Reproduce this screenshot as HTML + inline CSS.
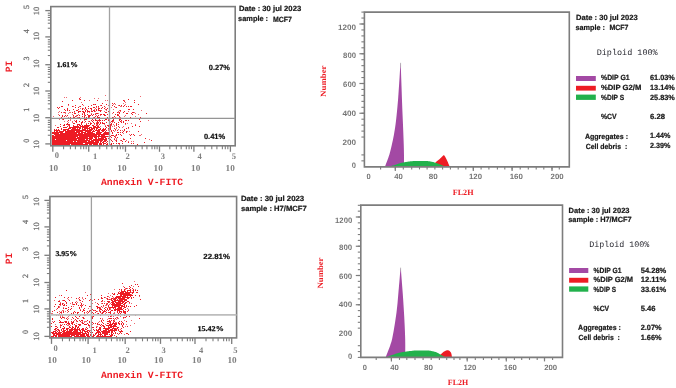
<!DOCTYPE html><html><head><meta charset="utf-8"><style>html,body{margin:0;padding:0;background:#fff;overflow:hidden}svg{display:block;will-change:transform}</style></head><body><svg width="676" height="388" viewBox="0 0 676 388" text-rendering="geometricPrecision">
<rect width="676" height="388" fill="#fff"/>
<g shape-rendering="crispEdges">
<path d="M79 98h1v1h-1zM80 99h1v1h-1zM128 99h1v1h-1zM72 100h1v1h-1zM84 100h1v1h-1zM97 100h1v1h-1zM123 100h1v1h-1zM134 100h1v1h-1zM62 101h1v1h-1zM124 101h1v1h-1zM134 102h1v1h-1zM102 103h1v1h-1zM112 103h1v1h-1zM114 103h1v1h-1zM68 104h1v1h-1zM82 104h1v1h-1zM93 104h1v1h-1zM95 104h1v1h-1zM106 104h1v1h-1zM138 104h1v1h-1zM75 105h1v1h-1zM91 105h1v1h-1zM101 105h1v1h-1zM112 105h1v1h-1zM119 105h1v1h-1zM121 105h1v1h-1zM124 105h1v1h-1zM61 106h1v1h-1zM62 106h1v1h-1zM72 106h1v1h-1zM80 106h1v1h-1zM88 106h1v1h-1zM96 106h1v1h-1zM98 106h1v1h-1zM104 106h1v1h-1zM114 106h1v1h-1zM123 106h1v1h-1zM126 106h1v1h-1zM128 106h1v1h-1zM130 106h1v1h-1zM131 106h1v1h-1zM57 107h1v1h-1zM59 107h1v1h-1zM75 107h1v1h-1zM78 107h1v1h-1zM85 107h1v1h-1zM93 107h1v1h-1zM94 107h1v1h-1zM102 107h1v1h-1zM116 107h1v1h-1zM58 108h1v1h-1zM67 108h1v1h-1zM82 108h1v1h-1zM85 108h1v1h-1zM88 108h1v1h-1zM90 108h1v1h-1zM91 108h1v1h-1zM98 108h1v1h-1zM99 108h1v1h-1zM101 108h1v1h-1zM104 108h1v1h-1zM107 108h1v1h-1zM64 109h1v1h-1zM67 109h1v1h-1zM73 109h1v1h-1zM78 109h1v1h-1zM82 109h1v1h-1zM86 109h1v1h-1zM91 109h1v1h-1zM96 109h1v1h-1zM98 109h1v1h-1zM106 109h1v1h-1zM128 109h1v1h-1zM129 109h1v1h-1zM133 109h1v1h-1zM65 110h1v1h-1zM67 110h1v1h-1zM69 110h1v1h-1zM76 110h1v1h-1zM77 110h1v1h-1zM85 110h1v1h-1zM87 110h1v1h-1zM93 110h1v1h-1zM94 110h1v1h-1zM96 110h1v1h-1zM98 110h1v1h-1zM99 110h1v1h-1zM100 110h1v1h-1zM120 110h1v1h-1zM74 111h1v1h-1zM78 111h1v1h-1zM79 111h1v1h-1zM80 111h1v1h-1zM82 111h1v1h-1zM83 111h1v1h-1zM85 111h1v1h-1zM87 111h1v1h-1zM88 111h1v1h-1zM89 111h1v1h-1zM91 111h1v1h-1zM92 111h1v1h-1zM94 111h1v1h-1zM100 111h1v1h-1zM108 111h1v1h-1zM124 111h1v1h-1zM61 112h1v1h-1zM64 112h1v1h-1zM72 112h1v1h-1zM78 112h1v1h-1zM83 112h1v1h-1zM84 112h1v1h-1zM105 112h1v1h-1zM106 112h1v1h-1zM113 112h1v1h-1zM117 112h1v1h-1zM119 112h1v1h-1zM123 112h1v1h-1zM132 112h1v1h-1zM133 112h1v1h-1zM74 113h1v1h-1zM75 113h1v1h-1zM84 113h1v1h-1zM96 113h1v1h-1zM97 113h1v1h-1zM119 113h1v1h-1zM126 113h1v1h-1zM127 113h1v1h-1zM131 113h1v1h-1zM146 113h1v1h-1zM82 114h1v1h-1zM84 114h1v1h-1zM87 114h1v1h-1zM91 114h1v1h-1zM93 114h1v1h-1zM95 114h1v1h-1zM100 114h1v1h-1zM101 114h1v1h-1zM103 114h1v1h-1zM104 114h1v1h-1zM107 114h1v1h-1zM115 114h1v1h-1zM117 114h1v1h-1zM132 114h1v1h-1zM59 115h1v1h-1zM62 115h1v1h-1zM65 115h1v1h-1zM67 115h1v1h-1zM73 115h1v1h-1zM77 115h1v1h-1zM79 115h1v1h-1zM85 115h1v1h-1zM88 115h1v1h-1zM89 115h1v1h-1zM90 115h1v1h-1zM92 115h1v1h-1zM98 115h1v1h-1zM104 115h1v1h-1zM105 115h1v1h-1zM117 115h1v1h-1zM118 115h1v1h-1zM62 116h1v1h-1zM64 116h1v1h-1zM75 116h1v1h-1zM82 116h1v1h-1zM84 116h1v1h-1zM88 116h1v1h-1zM89 116h1v1h-1zM95 116h1v1h-1zM97 116h1v1h-1zM109 116h1v1h-1zM114 116h1v1h-1zM119 116h1v1h-1zM61 117h1v1h-1zM70 117h1v1h-1zM73 117h1v1h-1zM74 117h1v1h-1zM79 117h1v1h-1zM84 117h1v1h-1zM86 117h1v1h-1zM88 117h1v1h-1zM94 117h1v1h-1zM97 117h1v1h-1zM98 117h1v1h-1zM99 117h1v1h-1zM107 117h1v1h-1zM112 117h1v1h-1zM130 117h1v1h-1zM140 117h1v1h-1zM68 118h1v1h-1zM69 118h1v1h-1zM84 118h1v1h-1zM86 118h1v1h-1zM91 118h1v1h-1zM92 118h1v1h-1zM105 118h1v1h-1zM106 118h1v1h-1zM108 118h1v1h-1zM131 118h1v1h-1zM63 119h1v1h-1zM84 119h1v1h-1zM85 119h1v1h-1zM86 119h1v1h-1zM92 119h1v1h-1zM95 119h1v1h-1zM99 119h1v1h-1zM105 119h1v1h-1zM106 119h1v1h-1zM113 119h1v1h-1zM119 119h1v1h-1zM120 119h1v1h-1zM139 119h1v1h-1zM68 120h1v1h-1zM76 120h1v1h-1zM91 120h1v1h-1zM93 120h1v1h-1zM95 120h1v1h-1zM96 120h1v1h-1zM98 120h1v1h-1zM99 120h1v1h-1zM100 120h1v1h-1zM102 120h1v1h-1zM104 120h1v1h-1zM108 120h1v1h-1zM112 120h1v1h-1zM113 120h1v1h-1zM119 120h1v1h-1zM121 120h1v1h-1zM125 120h1v1h-1zM126 120h1v1h-1zM128 120h1v1h-1zM75 121h1v1h-1zM76 121h1v1h-1zM79 121h1v1h-1zM82 121h1v1h-1zM85 121h1v1h-1zM89 121h1v1h-1zM92 121h1v1h-1zM97 121h1v1h-1zM111 121h1v1h-1zM112 121h1v1h-1zM120 121h1v1h-1zM123 121h1v1h-1zM140 121h1v1h-1zM76 122h1v1h-1zM81 122h1v1h-1zM82 122h1v1h-1zM93 122h1v1h-1zM97 122h1v1h-1zM98 122h1v1h-1zM100 122h1v1h-1zM102 122h1v1h-1zM106 122h1v1h-1zM114 122h1v1h-1zM118 122h1v1h-1zM121 122h1v1h-1zM123 122h1v1h-1zM67 123h1v1h-1zM73 123h1v1h-1zM74 123h1v1h-1zM81 123h1v1h-1zM88 123h1v1h-1zM90 123h1v1h-1zM91 123h1v1h-1zM94 123h1v1h-1zM96 123h1v1h-1zM97 123h1v1h-1zM100 123h1v1h-1zM102 123h1v1h-1zM103 123h1v1h-1zM104 123h1v1h-1zM111 123h1v1h-1zM116 123h1v1h-1zM125 123h1v1h-1zM60 124h1v1h-1zM64 124h1v1h-1zM66 124h1v1h-1zM67 124h1v1h-1zM68 124h1v1h-1zM69 124h1v1h-1zM77 124h1v1h-1zM78 124h1v1h-1zM79 124h1v1h-1zM81 124h1v1h-1zM86 124h1v1h-1zM90 124h1v1h-1zM97 124h1v1h-1zM99 124h1v1h-1zM110 124h1v1h-1zM111 124h1v1h-1zM116 124h1v1h-1zM118 124h1v1h-1zM63 125h1v1h-1zM64 125h1v1h-1zM69 125h1v1h-1zM73 125h1v1h-1zM77 125h1v1h-1zM79 125h1v1h-1zM80 125h1v1h-1zM82 125h1v1h-1zM84 125h1v1h-1zM85 125h1v1h-1zM86 125h1v1h-1zM87 125h1v1h-1zM88 125h1v1h-1zM89 125h1v1h-1zM92 125h1v1h-1zM93 125h1v1h-1zM96 125h1v1h-1zM107 125h1v1h-1zM108 125h1v1h-1zM110 125h1v1h-1zM116 125h1v1h-1zM135 125h1v1h-1zM60 126h1v1h-1zM67 126h1v1h-1zM69 126h1v1h-1zM73 126h1v1h-1zM74 126h1v1h-1zM75 126h1v1h-1zM76 126h1v1h-1zM77 126h1v1h-1zM78 126h1v1h-1zM80 126h1v1h-1zM81 126h1v1h-1zM82 126h1v1h-1zM83 126h1v1h-1zM84 126h1v1h-1zM85 126h1v1h-1zM86 126h1v1h-1zM87 126h1v1h-1zM88 126h1v1h-1zM93 126h1v1h-1zM94 126h1v1h-1zM95 126h1v1h-1zM97 126h1v1h-1zM98 126h1v1h-1zM105 126h1v1h-1zM108 126h1v1h-1zM110 126h1v1h-1zM118 126h1v1h-1zM132 126h1v1h-1zM139 126h1v1h-1zM57 127h1v1h-1zM58 127h1v1h-1zM63 127h1v1h-1zM64 127h1v1h-1zM65 127h1v1h-1zM66 127h1v1h-1zM69 127h1v1h-1zM70 127h1v1h-1zM71 127h1v1h-1zM72 127h1v1h-1zM73 127h1v1h-1zM74 127h1v1h-1zM75 127h1v1h-1zM76 127h1v1h-1zM77 127h1v1h-1zM78 127h1v1h-1zM79 127h1v1h-1zM80 127h1v1h-1zM82 127h1v1h-1zM83 127h1v1h-1zM84 127h1v1h-1zM85 127h1v1h-1zM86 127h1v1h-1zM87 127h1v1h-1zM89 127h1v1h-1zM90 127h1v1h-1zM91 127h1v1h-1zM93 127h1v1h-1zM94 127h1v1h-1zM95 127h1v1h-1zM96 127h1v1h-1zM97 127h1v1h-1zM98 127h1v1h-1zM99 127h1v1h-1zM106 127h1v1h-1zM110 127h1v1h-1zM119 127h1v1h-1zM128 127h1v1h-1zM61 128h1v1h-1zM68 128h1v1h-1zM69 128h1v1h-1zM70 128h1v1h-1zM72 128h1v1h-1zM73 128h1v1h-1zM74 128h1v1h-1zM75 128h1v1h-1zM77 128h1v1h-1zM79 128h1v1h-1zM80 128h1v1h-1zM82 128h1v1h-1zM84 128h1v1h-1zM85 128h1v1h-1zM86 128h1v1h-1zM87 128h1v1h-1zM88 128h1v1h-1zM89 128h1v1h-1zM91 128h1v1h-1zM92 128h1v1h-1zM93 128h1v1h-1zM94 128h1v1h-1zM96 128h1v1h-1zM97 128h1v1h-1zM100 128h1v1h-1zM103 128h1v1h-1zM105 128h1v1h-1zM108 128h1v1h-1zM110 128h1v1h-1zM114 128h1v1h-1zM126 128h1v1h-1zM54 129h1v1h-1zM56 129h1v1h-1zM58 129h1v1h-1zM61 129h1v1h-1zM63 129h1v1h-1zM64 129h1v1h-1zM65 129h1v1h-1zM66 129h1v1h-1zM67 129h1v1h-1zM68 129h1v1h-1zM71 129h1v1h-1zM72 129h1v1h-1zM73 129h1v1h-1zM74 129h1v1h-1zM75 129h1v1h-1zM76 129h1v1h-1zM77 129h1v1h-1zM78 129h1v1h-1zM79 129h1v1h-1zM82 129h1v1h-1zM83 129h1v1h-1zM84 129h1v1h-1zM85 129h1v1h-1zM87 129h1v1h-1zM89 129h1v1h-1zM90 129h1v1h-1zM91 129h1v1h-1zM92 129h1v1h-1zM94 129h1v1h-1zM96 129h1v1h-1zM98 129h1v1h-1zM99 129h1v1h-1zM100 129h1v1h-1zM102 129h1v1h-1zM103 129h1v1h-1zM104 129h1v1h-1zM105 129h1v1h-1zM110 129h1v1h-1zM115 129h1v1h-1zM124 129h1v1h-1zM54 130h1v1h-1zM55 130h1v1h-1zM56 130h1v1h-1zM57 130h1v1h-1zM58 130h1v1h-1zM59 130h1v1h-1zM63 130h1v1h-1zM64 130h1v1h-1zM65 130h1v1h-1zM67 130h1v1h-1zM68 130h1v1h-1zM69 130h1v1h-1zM70 130h1v1h-1zM71 130h1v1h-1zM72 130h1v1h-1zM73 130h1v1h-1zM74 130h1v1h-1zM75 130h1v1h-1zM76 130h1v1h-1zM77 130h1v1h-1zM78 130h1v1h-1zM79 130h1v1h-1zM80 130h1v1h-1zM81 130h1v1h-1zM82 130h1v1h-1zM83 130h1v1h-1zM84 130h1v1h-1zM85 130h1v1h-1zM86 130h1v1h-1zM87 130h1v1h-1zM88 130h1v1h-1zM89 130h1v1h-1zM90 130h1v1h-1zM91 130h1v1h-1zM93 130h1v1h-1zM95 130h1v1h-1zM96 130h1v1h-1zM97 130h1v1h-1zM98 130h1v1h-1zM99 130h1v1h-1zM101 130h1v1h-1zM102 130h1v1h-1zM103 130h1v1h-1zM104 130h1v1h-1zM106 130h1v1h-1zM109 130h1v1h-1zM111 130h1v1h-1zM113 130h1v1h-1zM117 130h1v1h-1zM120 130h1v1h-1zM124 130h1v1h-1zM54 131h1v1h-1zM56 131h1v1h-1zM57 131h1v1h-1zM59 131h1v1h-1zM60 131h1v1h-1zM61 131h1v1h-1zM62 131h1v1h-1zM63 131h1v1h-1zM65 131h1v1h-1zM66 131h1v1h-1zM67 131h1v1h-1zM68 131h1v1h-1zM69 131h1v1h-1zM70 131h1v1h-1zM71 131h1v1h-1zM72 131h1v1h-1zM73 131h1v1h-1zM74 131h1v1h-1zM76 131h1v1h-1zM77 131h1v1h-1zM78 131h1v1h-1zM79 131h1v1h-1zM80 131h1v1h-1zM81 131h1v1h-1zM82 131h1v1h-1zM85 131h1v1h-1zM86 131h1v1h-1zM87 131h1v1h-1zM88 131h1v1h-1zM89 131h1v1h-1zM90 131h1v1h-1zM92 131h1v1h-1zM93 131h1v1h-1zM94 131h1v1h-1zM97 131h1v1h-1zM98 131h1v1h-1zM99 131h1v1h-1zM102 131h1v1h-1zM103 131h1v1h-1zM105 131h1v1h-1zM109 131h1v1h-1zM111 131h1v1h-1zM123 131h1v1h-1zM126 131h1v1h-1zM138 131h1v1h-1zM52 132h1v1h-1zM53 132h1v1h-1zM54 132h1v1h-1zM55 132h1v1h-1zM56 132h1v1h-1zM57 132h1v1h-1zM58 132h1v1h-1zM59 132h1v1h-1zM60 132h1v1h-1zM61 132h1v1h-1zM62 132h1v1h-1zM65 132h1v1h-1zM66 132h1v1h-1zM67 132h1v1h-1zM68 132h1v1h-1zM69 132h1v1h-1zM70 132h1v1h-1zM71 132h1v1h-1zM72 132h1v1h-1zM73 132h1v1h-1zM74 132h1v1h-1zM75 132h1v1h-1zM76 132h1v1h-1zM77 132h1v1h-1zM78 132h1v1h-1zM79 132h1v1h-1zM81 132h1v1h-1zM82 132h1v1h-1zM83 132h1v1h-1zM84 132h1v1h-1zM85 132h1v1h-1zM87 132h1v1h-1zM88 132h1v1h-1zM89 132h1v1h-1zM90 132h1v1h-1zM91 132h1v1h-1zM92 132h1v1h-1zM96 132h1v1h-1zM97 132h1v1h-1zM98 132h1v1h-1zM99 132h1v1h-1zM100 132h1v1h-1zM101 132h1v1h-1zM104 132h1v1h-1zM105 132h1v1h-1zM106 132h1v1h-1zM107 132h1v1h-1zM108 132h1v1h-1zM112 132h1v1h-1zM117 132h1v1h-1zM118 132h1v1h-1zM120 132h1v1h-1zM122 132h1v1h-1zM126 132h1v1h-1zM52 133h1v1h-1zM53 133h1v1h-1zM54 133h1v1h-1zM55 133h1v1h-1zM56 133h1v1h-1zM57 133h1v1h-1zM58 133h1v1h-1zM60 133h1v1h-1zM61 133h1v1h-1zM62 133h1v1h-1zM63 133h1v1h-1zM64 133h1v1h-1zM65 133h1v1h-1zM66 133h1v1h-1zM67 133h1v1h-1zM68 133h1v1h-1zM69 133h1v1h-1zM70 133h1v1h-1zM71 133h1v1h-1zM72 133h1v1h-1zM73 133h1v1h-1zM74 133h1v1h-1zM75 133h1v1h-1zM76 133h1v1h-1zM78 133h1v1h-1zM79 133h1v1h-1zM80 133h1v1h-1zM81 133h1v1h-1zM82 133h1v1h-1zM84 133h1v1h-1zM85 133h1v1h-1zM86 133h1v1h-1zM87 133h1v1h-1zM88 133h1v1h-1zM89 133h1v1h-1zM90 133h1v1h-1zM91 133h1v1h-1zM92 133h1v1h-1zM93 133h1v1h-1zM94 133h1v1h-1zM96 133h1v1h-1zM97 133h1v1h-1zM98 133h1v1h-1zM99 133h1v1h-1zM100 133h1v1h-1zM103 133h1v1h-1zM104 133h1v1h-1zM105 133h1v1h-1zM106 133h1v1h-1zM107 133h1v1h-1zM108 133h1v1h-1zM109 133h1v1h-1zM112 133h1v1h-1zM54 134h1v1h-1zM55 134h1v1h-1zM56 134h1v1h-1zM57 134h1v1h-1zM58 134h1v1h-1zM59 134h1v1h-1zM60 134h1v1h-1zM61 134h1v1h-1zM62 134h1v1h-1zM63 134h1v1h-1zM64 134h1v1h-1zM65 134h1v1h-1zM66 134h1v1h-1zM67 134h1v1h-1zM68 134h1v1h-1zM69 134h1v1h-1zM70 134h1v1h-1zM71 134h1v1h-1zM72 134h1v1h-1zM73 134h1v1h-1zM74 134h1v1h-1zM75 134h1v1h-1zM76 134h1v1h-1zM77 134h1v1h-1zM78 134h1v1h-1zM79 134h1v1h-1zM80 134h1v1h-1zM81 134h1v1h-1zM82 134h1v1h-1zM83 134h1v1h-1zM84 134h1v1h-1zM85 134h1v1h-1zM86 134h1v1h-1zM87 134h1v1h-1zM88 134h1v1h-1zM89 134h1v1h-1zM90 134h1v1h-1zM91 134h1v1h-1zM92 134h1v1h-1zM93 134h1v1h-1zM94 134h1v1h-1zM95 134h1v1h-1zM96 134h1v1h-1zM97 134h1v1h-1zM98 134h1v1h-1zM99 134h1v1h-1zM100 134h1v1h-1zM101 134h1v1h-1zM102 134h1v1h-1zM103 134h1v1h-1zM104 134h1v1h-1zM105 134h1v1h-1zM106 134h1v1h-1zM107 134h1v1h-1zM108 134h1v1h-1zM109 134h1v1h-1zM116 134h1v1h-1zM118 134h1v1h-1zM120 134h1v1h-1zM131 134h1v1h-1zM133 134h1v1h-1zM52 135h1v1h-1zM53 135h1v1h-1zM55 135h1v1h-1zM56 135h1v1h-1zM57 135h1v1h-1zM58 135h1v1h-1zM59 135h1v1h-1zM60 135h1v1h-1zM61 135h1v1h-1zM62 135h1v1h-1zM63 135h1v1h-1zM64 135h1v1h-1zM65 135h1v1h-1zM66 135h1v1h-1zM67 135h1v1h-1zM68 135h1v1h-1zM69 135h1v1h-1zM70 135h1v1h-1zM71 135h1v1h-1zM72 135h1v1h-1zM73 135h1v1h-1zM74 135h1v1h-1zM75 135h1v1h-1zM76 135h1v1h-1zM77 135h1v1h-1zM78 135h1v1h-1zM79 135h1v1h-1zM80 135h1v1h-1zM81 135h1v1h-1zM82 135h1v1h-1zM83 135h1v1h-1zM84 135h1v1h-1zM85 135h1v1h-1zM86 135h1v1h-1zM87 135h1v1h-1zM88 135h1v1h-1zM89 135h1v1h-1zM90 135h1v1h-1zM91 135h1v1h-1zM92 135h1v1h-1zM93 135h1v1h-1zM94 135h1v1h-1zM95 135h1v1h-1zM96 135h1v1h-1zM98 135h1v1h-1zM99 135h1v1h-1zM101 135h1v1h-1zM102 135h1v1h-1zM103 135h1v1h-1zM104 135h1v1h-1zM111 135h1v1h-1zM112 135h1v1h-1zM113 135h1v1h-1zM116 135h1v1h-1zM121 135h1v1h-1zM130 135h1v1h-1zM134 135h1v1h-1zM52 136h1v1h-1zM53 136h1v1h-1zM54 136h1v1h-1zM55 136h1v1h-1zM56 136h1v1h-1zM57 136h1v1h-1zM58 136h1v1h-1zM59 136h1v1h-1zM60 136h1v1h-1zM61 136h1v1h-1zM62 136h1v1h-1zM63 136h1v1h-1zM64 136h1v1h-1zM65 136h1v1h-1zM66 136h1v1h-1zM67 136h1v1h-1zM68 136h1v1h-1zM69 136h1v1h-1zM70 136h1v1h-1zM71 136h1v1h-1zM72 136h1v1h-1zM73 136h1v1h-1zM74 136h1v1h-1zM75 136h1v1h-1zM76 136h1v1h-1zM77 136h1v1h-1zM79 136h1v1h-1zM80 136h1v1h-1zM81 136h1v1h-1zM82 136h1v1h-1zM83 136h1v1h-1zM84 136h1v1h-1zM85 136h1v1h-1zM86 136h1v1h-1zM87 136h1v1h-1zM88 136h1v1h-1zM89 136h1v1h-1zM90 136h1v1h-1zM91 136h1v1h-1zM92 136h1v1h-1zM93 136h1v1h-1zM94 136h1v1h-1zM95 136h1v1h-1zM96 136h1v1h-1zM97 136h1v1h-1zM98 136h1v1h-1zM99 136h1v1h-1zM100 136h1v1h-1zM101 136h1v1h-1zM102 136h1v1h-1zM103 136h1v1h-1zM104 136h1v1h-1zM105 136h1v1h-1zM106 136h1v1h-1zM107 136h1v1h-1zM110 136h1v1h-1zM114 136h1v1h-1zM52 137h1v1h-1zM53 137h1v1h-1zM54 137h1v1h-1zM55 137h1v1h-1zM56 137h1v1h-1zM57 137h1v1h-1zM58 137h1v1h-1zM59 137h1v1h-1zM60 137h1v1h-1zM61 137h1v1h-1zM62 137h1v1h-1zM63 137h1v1h-1zM64 137h1v1h-1zM65 137h1v1h-1zM66 137h1v1h-1zM67 137h1v1h-1zM68 137h1v1h-1zM69 137h1v1h-1zM70 137h1v1h-1zM71 137h1v1h-1zM72 137h1v1h-1zM73 137h1v1h-1zM74 137h1v1h-1zM75 137h1v1h-1zM77 137h1v1h-1zM78 137h1v1h-1zM79 137h1v1h-1zM80 137h1v1h-1zM81 137h1v1h-1zM82 137h1v1h-1zM83 137h1v1h-1zM84 137h1v1h-1zM85 137h1v1h-1zM86 137h1v1h-1zM87 137h1v1h-1zM89 137h1v1h-1zM90 137h1v1h-1zM91 137h1v1h-1zM92 137h1v1h-1zM94 137h1v1h-1zM95 137h1v1h-1zM96 137h1v1h-1zM98 137h1v1h-1zM101 137h1v1h-1zM102 137h1v1h-1zM103 137h1v1h-1zM104 137h1v1h-1zM105 137h1v1h-1zM109 137h1v1h-1zM111 137h1v1h-1zM115 137h1v1h-1zM117 137h1v1h-1zM52 138h1v1h-1zM53 138h1v1h-1zM54 138h1v1h-1zM55 138h1v1h-1zM56 138h1v1h-1zM57 138h1v1h-1zM58 138h1v1h-1zM59 138h1v1h-1zM60 138h1v1h-1zM61 138h1v1h-1zM62 138h1v1h-1zM63 138h1v1h-1zM64 138h1v1h-1zM65 138h1v1h-1zM66 138h1v1h-1zM67 138h1v1h-1zM68 138h1v1h-1zM69 138h1v1h-1zM70 138h1v1h-1zM71 138h1v1h-1zM72 138h1v1h-1zM73 138h1v1h-1zM74 138h1v1h-1zM75 138h1v1h-1zM76 138h1v1h-1zM77 138h1v1h-1zM78 138h1v1h-1zM79 138h1v1h-1zM80 138h1v1h-1zM81 138h1v1h-1zM82 138h1v1h-1zM83 138h1v1h-1zM84 138h1v1h-1zM85 138h1v1h-1zM86 138h1v1h-1zM87 138h1v1h-1zM88 138h1v1h-1zM89 138h1v1h-1zM90 138h1v1h-1zM91 138h1v1h-1zM92 138h1v1h-1zM95 138h1v1h-1zM96 138h1v1h-1zM98 138h1v1h-1zM99 138h1v1h-1zM100 138h1v1h-1zM101 138h1v1h-1zM102 138h1v1h-1zM103 138h1v1h-1zM105 138h1v1h-1zM106 138h1v1h-1zM108 138h1v1h-1zM130 138h1v1h-1zM145 138h1v1h-1zM52 139h1v1h-1zM53 139h1v1h-1zM54 139h1v1h-1zM56 139h1v1h-1zM57 139h1v1h-1zM58 139h1v1h-1zM59 139h1v1h-1zM60 139h1v1h-1zM61 139h1v1h-1zM62 139h1v1h-1zM63 139h1v1h-1zM64 139h1v1h-1zM65 139h1v1h-1zM66 139h1v1h-1zM67 139h1v1h-1zM68 139h1v1h-1zM69 139h1v1h-1zM70 139h1v1h-1zM71 139h1v1h-1zM72 139h1v1h-1zM73 139h1v1h-1zM74 139h1v1h-1zM75 139h1v1h-1zM76 139h1v1h-1zM78 139h1v1h-1zM79 139h1v1h-1zM80 139h1v1h-1zM81 139h1v1h-1zM82 139h1v1h-1zM83 139h1v1h-1zM84 139h1v1h-1zM86 139h1v1h-1zM87 139h1v1h-1zM89 139h1v1h-1zM90 139h1v1h-1zM91 139h1v1h-1zM93 139h1v1h-1zM94 139h1v1h-1zM95 139h1v1h-1zM96 139h1v1h-1zM97 139h1v1h-1zM98 139h1v1h-1zM99 139h1v1h-1zM100 139h1v1h-1zM101 139h1v1h-1zM102 139h1v1h-1zM103 139h1v1h-1zM104 139h1v1h-1zM105 139h1v1h-1zM106 139h1v1h-1zM110 139h1v1h-1zM114 139h1v1h-1zM123 139h1v1h-1zM124 139h1v1h-1zM52 140h1v1h-1zM53 140h1v1h-1zM54 140h1v1h-1zM55 140h1v1h-1zM56 140h1v1h-1zM57 140h1v1h-1zM58 140h1v1h-1zM59 140h1v1h-1zM60 140h1v1h-1zM61 140h1v1h-1zM62 140h1v1h-1zM63 140h1v1h-1zM64 140h1v1h-1zM65 140h1v1h-1zM67 140h1v1h-1zM68 140h1v1h-1zM69 140h1v1h-1zM70 140h1v1h-1zM71 140h1v1h-1zM72 140h1v1h-1zM73 140h1v1h-1zM74 140h1v1h-1zM75 140h1v1h-1zM76 140h1v1h-1zM77 140h1v1h-1zM78 140h1v1h-1zM79 140h1v1h-1zM80 140h1v1h-1zM81 140h1v1h-1zM82 140h1v1h-1zM83 140h1v1h-1zM84 140h1v1h-1zM85 140h1v1h-1zM86 140h1v1h-1zM87 140h1v1h-1zM88 140h1v1h-1zM89 140h1v1h-1zM91 140h1v1h-1zM92 140h1v1h-1zM93 140h1v1h-1zM94 140h1v1h-1zM95 140h1v1h-1zM96 140h1v1h-1zM97 140h1v1h-1zM98 140h1v1h-1zM99 140h1v1h-1zM100 140h1v1h-1zM101 140h1v1h-1zM102 140h1v1h-1zM104 140h1v1h-1zM105 140h1v1h-1zM106 140h1v1h-1zM111 140h1v1h-1zM116 140h1v1h-1zM121 140h1v1h-1zM151 140h1v1h-1zM52 141h1v1h-1zM53 141h1v1h-1zM54 141h1v1h-1zM55 141h1v1h-1zM56 141h1v1h-1zM57 141h1v1h-1zM58 141h1v1h-1zM59 141h1v1h-1zM60 141h1v1h-1zM61 141h1v1h-1zM62 141h1v1h-1zM63 141h1v1h-1zM64 141h1v1h-1zM65 141h1v1h-1zM66 141h1v1h-1zM67 141h1v1h-1zM68 141h1v1h-1zM69 141h1v1h-1zM70 141h1v1h-1zM71 141h1v1h-1zM72 141h1v1h-1zM74 141h1v1h-1zM75 141h1v1h-1zM77 141h1v1h-1zM78 141h1v1h-1zM79 141h1v1h-1zM80 141h1v1h-1zM81 141h1v1h-1zM82 141h1v1h-1zM83 141h1v1h-1zM84 141h1v1h-1zM85 141h1v1h-1zM86 141h1v1h-1zM88 141h1v1h-1zM89 141h1v1h-1zM90 141h1v1h-1zM91 141h1v1h-1zM92 141h1v1h-1zM93 141h1v1h-1zM95 141h1v1h-1zM96 141h1v1h-1zM97 141h1v1h-1zM98 141h1v1h-1zM100 141h1v1h-1zM101 141h1v1h-1zM103 141h1v1h-1zM104 141h1v1h-1zM105 141h1v1h-1zM107 141h1v1h-1zM112 141h1v1h-1zM116 141h1v1h-1zM122 141h1v1h-1zM125 141h1v1h-1zM52 142h1v1h-1zM53 142h1v1h-1zM54 142h1v1h-1zM55 142h1v1h-1zM56 142h1v1h-1zM57 142h1v1h-1zM58 142h1v1h-1zM59 142h1v1h-1zM60 142h1v1h-1zM61 142h1v1h-1zM62 142h1v1h-1zM63 142h1v1h-1zM64 142h1v1h-1zM65 142h1v1h-1zM66 142h1v1h-1zM67 142h1v1h-1zM68 142h1v1h-1zM69 142h1v1h-1zM70 142h1v1h-1zM71 142h1v1h-1zM72 142h1v1h-1zM73 142h1v1h-1zM74 142h1v1h-1zM75 142h1v1h-1zM76 142h1v1h-1zM77 142h1v1h-1zM78 142h1v1h-1zM79 142h1v1h-1zM80 142h1v1h-1zM81 142h1v1h-1zM82 142h1v1h-1zM83 142h1v1h-1zM84 142h1v1h-1zM85 142h1v1h-1zM86 142h1v1h-1zM87 142h1v1h-1zM88 142h1v1h-1zM89 142h1v1h-1zM90 142h1v1h-1zM91 142h1v1h-1zM92 142h1v1h-1zM93 142h1v1h-1zM94 142h1v1h-1zM95 142h1v1h-1zM96 142h1v1h-1zM97 142h1v1h-1zM98 142h1v1h-1zM100 142h1v1h-1zM102 142h1v1h-1zM103 142h1v1h-1zM106 142h1v1h-1zM109 142h1v1h-1zM128 142h1v1h-1zM144 142h1v1h-1zM52 143h1v1h-1zM53 143h1v1h-1zM54 143h1v1h-1zM55 143h1v1h-1zM56 143h1v1h-1zM57 143h1v1h-1zM58 143h1v1h-1zM59 143h1v1h-1zM60 143h1v1h-1zM61 143h1v1h-1zM62 143h1v1h-1zM63 143h1v1h-1zM64 143h1v1h-1zM65 143h1v1h-1zM66 143h1v1h-1zM67 143h1v1h-1zM68 143h1v1h-1zM69 143h1v1h-1zM70 143h1v1h-1zM71 143h1v1h-1zM72 143h1v1h-1zM73 143h1v1h-1zM74 143h1v1h-1zM75 143h1v1h-1zM76 143h1v1h-1zM77 143h1v1h-1zM78 143h1v1h-1zM79 143h1v1h-1zM80 143h1v1h-1zM81 143h1v1h-1zM82 143h1v1h-1zM85 143h1v1h-1zM86 143h1v1h-1zM87 143h1v1h-1zM88 143h1v1h-1zM89 143h1v1h-1zM90 143h1v1h-1zM91 143h1v1h-1zM92 143h1v1h-1zM93 143h1v1h-1zM94 143h1v1h-1zM95 143h1v1h-1zM96 143h1v1h-1zM97 143h1v1h-1zM99 143h1v1h-1zM100 143h1v1h-1zM101 143h1v1h-1zM103 143h1v1h-1zM104 143h1v1h-1zM105 143h1v1h-1zM107 143h1v1h-1zM111 143h1v1h-1zM113 143h1v1h-1zM116 143h1v1h-1zM118 143h1v1h-1zM119 143h1v1h-1zM122 143h1v1h-1zM131 143h1v1h-1zM133 143h1v1h-1zM52 144h1v1h-1zM53 144h1v1h-1zM54 144h1v1h-1zM55 144h1v1h-1zM56 144h1v1h-1zM57 144h1v1h-1zM58 144h1v1h-1zM59 144h1v1h-1zM60 144h1v1h-1zM61 144h1v1h-1zM62 144h1v1h-1zM63 144h1v1h-1zM64 144h1v1h-1zM65 144h1v1h-1zM66 144h1v1h-1zM67 144h1v1h-1zM68 144h1v1h-1zM69 144h1v1h-1zM71 144h1v1h-1zM72 144h1v1h-1zM73 144h1v1h-1zM74 144h1v1h-1zM75 144h1v1h-1zM76 144h1v1h-1zM77 144h1v1h-1zM78 144h1v1h-1zM79 144h1v1h-1zM80 144h1v1h-1zM81 144h1v1h-1zM82 144h1v1h-1zM83 144h1v1h-1zM84 144h1v1h-1zM85 144h1v1h-1zM86 144h1v1h-1zM87 144h1v1h-1zM89 144h1v1h-1zM90 144h1v1h-1zM91 144h1v1h-1zM93 144h1v1h-1zM94 144h1v1h-1zM95 144h1v1h-1zM96 144h1v1h-1zM97 144h1v1h-1zM99 144h1v1h-1zM100 144h1v1h-1zM101 144h1v1h-1zM103 144h1v1h-1zM106 144h1v1h-1zM107 144h1v1h-1zM111 144h1v1h-1zM137 144h1v1h-1z" fill="#ed1c24"/>
<path d="M105 95h1v1h-1zM140 96h1v1h-1zM64 97h1v1h-1zM66 97h1v1h-1zM80 97h1v1h-1zM94 98h1v1h-1zM98 98h1v1h-1zM79 99h1v1h-1zM89 100h1v1h-1zM105 100h1v1h-1zM107 100h1v1h-1zM124 100h1v1h-1zM81 102h1v1h-1zM125 102h1v1h-1zM123 103h1v1h-1zM94 104h1v1h-1zM113 104h1v1h-1zM115 104h1v1h-1zM125 104h1v1h-1zM68 105h1v1h-1zM83 105h1v1h-1zM100 105h1v1h-1zM108 105h1v1h-1zM118 105h1v1h-1zM73 106h1v1h-1zM79 106h1v1h-1zM120 106h1v1h-1zM121 106h1v1h-1zM96 107h1v1h-1zM98 107h1v1h-1zM105 107h1v1h-1zM111 107h1v1h-1zM115 107h1v1h-1zM80 108h1v1h-1zM83 108h1v1h-1zM95 108h1v1h-1zM84 109h1v1h-1zM94 109h1v1h-1zM105 109h1v1h-1zM113 109h1v1h-1zM91 110h1v1h-1zM101 110h1v1h-1zM106 110h1v1h-1zM119 110h1v1h-1zM141 110h1v1h-1zM59 111h1v1h-1zM95 111h1v1h-1zM104 111h1v1h-1zM118 111h1v1h-1zM120 111h1v1h-1zM128 111h1v1h-1zM58 112h1v1h-1zM63 112h1v1h-1zM65 112h1v1h-1zM69 112h1v1h-1zM70 112h1v1h-1zM74 112h1v1h-1zM87 112h1v1h-1zM89 112h1v1h-1zM118 112h1v1h-1zM134 112h1v1h-1zM65 113h1v1h-1zM68 113h1v1h-1zM82 113h1v1h-1zM91 113h1v1h-1zM95 113h1v1h-1zM98 113h1v1h-1zM112 113h1v1h-1zM135 113h1v1h-1zM58 114h1v1h-1zM72 114h1v1h-1zM78 114h1v1h-1zM118 114h1v1h-1zM138 114h1v1h-1zM76 115h1v1h-1zM84 115h1v1h-1zM96 115h1v1h-1zM100 115h1v1h-1zM125 115h1v1h-1zM53 116h1v1h-1zM66 116h1v1h-1zM73 116h1v1h-1zM76 116h1v1h-1zM124 116h1v1h-1zM135 116h1v1h-1zM68 117h1v1h-1zM77 117h1v1h-1zM78 117h1v1h-1zM89 117h1v1h-1zM93 117h1v1h-1zM113 117h1v1h-1zM115 117h1v1h-1zM119 117h1v1h-1zM120 117h1v1h-1zM58 118h1v1h-1zM88 118h1v1h-1zM89 118h1v1h-1zM99 118h1v1h-1zM109 118h1v1h-1zM124 118h1v1h-1zM126 118h1v1h-1zM59 119h1v1h-1zM62 119h1v1h-1zM70 119h1v1h-1zM80 119h1v1h-1zM108 119h1v1h-1zM109 119h1v1h-1zM70 120h1v1h-1zM74 120h1v1h-1zM84 120h1v1h-1zM97 120h1v1h-1zM148 120h1v1h-1zM64 121h1v1h-1zM67 121h1v1h-1zM72 121h1v1h-1zM88 121h1v1h-1zM99 121h1v1h-1zM113 121h1v1h-1zM121 121h1v1h-1zM68 122h1v1h-1zM72 122h1v1h-1zM84 122h1v1h-1zM90 122h1v1h-1zM96 122h1v1h-1zM110 122h1v1h-1zM112 122h1v1h-1zM86 123h1v1h-1zM98 123h1v1h-1zM127 123h1v1h-1zM131 123h1v1h-1zM94 124h1v1h-1zM96 124h1v1h-1zM104 124h1v1h-1zM113 124h1v1h-1zM125 124h1v1h-1zM135 124h1v1h-1zM55 125h1v1h-1zM68 125h1v1h-1zM97 125h1v1h-1zM98 125h1v1h-1zM105 125h1v1h-1zM111 125h1v1h-1zM114 125h1v1h-1zM100 126h1v1h-1zM112 126h1v1h-1zM114 126h1v1h-1zM123 126h1v1h-1zM116 127h1v1h-1zM122 127h1v1h-1zM116 128h1v1h-1zM128 128h1v1h-1zM108 129h1v1h-1zM118 129h1v1h-1zM108 130h1v1h-1zM115 130h1v1h-1zM122 130h1v1h-1zM114 131h1v1h-1zM127 131h1v1h-1zM129 131h1v1h-1zM109 132h1v1h-1zM123 133h1v1h-1zM129 134h1v1h-1zM141 134h1v1h-1zM115 135h1v1h-1zM139 135h1v1h-1zM140 135h1v1h-1zM108 136h1v1h-1zM115 136h1v1h-1zM114 138h1v1h-1zM116 138h1v1h-1zM123 138h1v1h-1zM116 139h1v1h-1zM149 139h1v1h-1zM109 140h1v1h-1zM115 140h1v1h-1zM120 140h1v1h-1zM126 140h1v1h-1zM109 141h1v1h-1zM128 141h1v1h-1zM131 141h1v1h-1zM133 141h1v1h-1zM110 144h1v1h-1zM119 144h1v1h-1z" fill="#f06a72"/>
</g>
<g shape-rendering="crispEdges">
<path d="M122 283h1v1h-1zM135 284h1v1h-1zM137 284h1v1h-1zM131 285h1v1h-1zM129 286h1v1h-1zM138 286h1v1h-1zM124 287h1v1h-1zM130 287h1v1h-1zM126 288h1v1h-1zM129 288h1v1h-1zM132 288h1v1h-1zM119 289h1v1h-1zM121 289h1v1h-1zM124 289h1v1h-1zM130 289h1v1h-1zM133 289h1v1h-1zM66 290h1v1h-1zM121 290h1v1h-1zM124 290h1v1h-1zM127 290h1v1h-1zM128 290h1v1h-1zM129 290h1v1h-1zM130 290h1v1h-1zM133 290h1v1h-1zM135 290h1v1h-1zM137 290h1v1h-1zM121 291h1v1h-1zM122 291h1v1h-1zM123 291h1v1h-1zM124 291h1v1h-1zM125 291h1v1h-1zM127 291h1v1h-1zM130 291h1v1h-1zM133 291h1v1h-1zM118 292h1v1h-1zM120 292h1v1h-1zM121 292h1v1h-1zM122 292h1v1h-1zM123 292h1v1h-1zM125 292h1v1h-1zM126 292h1v1h-1zM127 292h1v1h-1zM128 292h1v1h-1zM129 292h1v1h-1zM130 292h1v1h-1zM132 292h1v1h-1zM133 292h1v1h-1zM136 292h1v1h-1zM137 292h1v1h-1zM112 293h1v1h-1zM114 293h1v1h-1zM118 293h1v1h-1zM119 293h1v1h-1zM120 293h1v1h-1zM121 293h1v1h-1zM122 293h1v1h-1zM123 293h1v1h-1zM124 293h1v1h-1zM125 293h1v1h-1zM126 293h1v1h-1zM127 293h1v1h-1zM128 293h1v1h-1zM129 293h1v1h-1zM132 293h1v1h-1zM90 294h1v1h-1zM113 294h1v1h-1zM114 294h1v1h-1zM117 294h1v1h-1zM120 294h1v1h-1zM121 294h1v1h-1zM122 294h1v1h-1zM123 294h1v1h-1zM124 294h1v1h-1zM125 294h1v1h-1zM126 294h1v1h-1zM127 294h1v1h-1zM128 294h1v1h-1zM129 294h1v1h-1zM130 294h1v1h-1zM61 295h1v1h-1zM87 295h1v1h-1zM101 295h1v1h-1zM120 295h1v1h-1zM121 295h1v1h-1zM123 295h1v1h-1zM124 295h1v1h-1zM125 295h1v1h-1zM126 295h1v1h-1zM127 295h1v1h-1zM128 295h1v1h-1zM129 295h1v1h-1zM130 295h1v1h-1zM131 295h1v1h-1zM132 295h1v1h-1zM135 295h1v1h-1zM139 295h1v1h-1zM107 296h1v1h-1zM112 296h1v1h-1zM116 296h1v1h-1zM117 296h1v1h-1zM118 296h1v1h-1zM119 296h1v1h-1zM120 296h1v1h-1zM121 296h1v1h-1zM122 296h1v1h-1zM123 296h1v1h-1zM124 296h1v1h-1zM125 296h1v1h-1zM127 296h1v1h-1zM130 296h1v1h-1zM55 297h1v1h-1zM64 297h1v1h-1zM68 297h1v1h-1zM79 297h1v1h-1zM101 297h1v1h-1zM104 297h1v1h-1zM115 297h1v1h-1zM116 297h1v1h-1zM117 297h1v1h-1zM118 297h1v1h-1zM119 297h1v1h-1zM120 297h1v1h-1zM122 297h1v1h-1zM123 297h1v1h-1zM124 297h1v1h-1zM125 297h1v1h-1zM126 297h1v1h-1zM127 297h1v1h-1zM128 297h1v1h-1zM129 297h1v1h-1zM131 297h1v1h-1zM133 297h1v1h-1zM76 298h1v1h-1zM85 298h1v1h-1zM101 298h1v1h-1zM102 298h1v1h-1zM107 298h1v1h-1zM111 298h1v1h-1zM112 298h1v1h-1zM114 298h1v1h-1zM115 298h1v1h-1zM116 298h1v1h-1zM118 298h1v1h-1zM119 298h1v1h-1zM120 298h1v1h-1zM121 298h1v1h-1zM122 298h1v1h-1zM123 298h1v1h-1zM124 298h1v1h-1zM127 298h1v1h-1zM128 298h1v1h-1zM131 298h1v1h-1zM79 299h1v1h-1zM90 299h1v1h-1zM94 299h1v1h-1zM98 299h1v1h-1zM107 299h1v1h-1zM109 299h1v1h-1zM111 299h1v1h-1zM113 299h1v1h-1zM114 299h1v1h-1zM115 299h1v1h-1zM117 299h1v1h-1zM119 299h1v1h-1zM120 299h1v1h-1zM121 299h1v1h-1zM122 299h1v1h-1zM123 299h1v1h-1zM124 299h1v1h-1zM125 299h1v1h-1zM126 299h1v1h-1zM140 299h1v1h-1zM63 300h1v1h-1zM64 300h1v1h-1zM69 300h1v1h-1zM80 300h1v1h-1zM89 300h1v1h-1zM102 300h1v1h-1zM111 300h1v1h-1zM112 300h1v1h-1zM114 300h1v1h-1zM115 300h1v1h-1zM116 300h1v1h-1zM117 300h1v1h-1zM118 300h1v1h-1zM119 300h1v1h-1zM120 300h1v1h-1zM121 300h1v1h-1zM122 300h1v1h-1zM124 300h1v1h-1zM125 300h1v1h-1zM126 300h1v1h-1zM58 301h1v1h-1zM59 301h1v1h-1zM65 301h1v1h-1zM82 301h1v1h-1zM101 301h1v1h-1zM107 301h1v1h-1zM108 301h1v1h-1zM109 301h1v1h-1zM112 301h1v1h-1zM113 301h1v1h-1zM114 301h1v1h-1zM115 301h1v1h-1zM118 301h1v1h-1zM119 301h1v1h-1zM120 301h1v1h-1zM121 301h1v1h-1zM122 301h1v1h-1zM123 301h1v1h-1zM124 301h1v1h-1zM127 301h1v1h-1zM128 301h1v1h-1zM66 302h1v1h-1zM72 302h1v1h-1zM75 302h1v1h-1zM108 302h1v1h-1zM111 302h1v1h-1zM112 302h1v1h-1zM113 302h1v1h-1zM115 302h1v1h-1zM116 302h1v1h-1zM117 302h1v1h-1zM118 302h1v1h-1zM119 302h1v1h-1zM120 302h1v1h-1zM122 302h1v1h-1zM123 302h1v1h-1zM125 302h1v1h-1zM126 302h1v1h-1zM129 302h1v1h-1zM60 303h1v1h-1zM62 303h1v1h-1zM66 303h1v1h-1zM76 303h1v1h-1zM81 303h1v1h-1zM97 303h1v1h-1zM102 303h1v1h-1zM104 303h1v1h-1zM107 303h1v1h-1zM112 303h1v1h-1zM113 303h1v1h-1zM114 303h1v1h-1zM116 303h1v1h-1zM117 303h1v1h-1zM118 303h1v1h-1zM119 303h1v1h-1zM120 303h1v1h-1zM121 303h1v1h-1zM122 303h1v1h-1zM124 303h1v1h-1zM125 303h1v1h-1zM55 304h1v1h-1zM59 304h1v1h-1zM60 304h1v1h-1zM62 304h1v1h-1zM64 304h1v1h-1zM73 304h1v1h-1zM74 304h1v1h-1zM76 304h1v1h-1zM81 304h1v1h-1zM98 304h1v1h-1zM106 304h1v1h-1zM111 304h1v1h-1zM112 304h1v1h-1zM113 304h1v1h-1zM114 304h1v1h-1zM115 304h1v1h-1zM116 304h1v1h-1zM117 304h1v1h-1zM118 304h1v1h-1zM119 304h1v1h-1zM120 304h1v1h-1zM123 304h1v1h-1zM124 304h1v1h-1zM63 305h1v1h-1zM64 305h1v1h-1zM66 305h1v1h-1zM78 305h1v1h-1zM80 305h1v1h-1zM82 305h1v1h-1zM85 305h1v1h-1zM103 305h1v1h-1zM108 305h1v1h-1zM112 305h1v1h-1zM113 305h1v1h-1zM114 305h1v1h-1zM115 305h1v1h-1zM116 305h1v1h-1zM117 305h1v1h-1zM118 305h1v1h-1zM119 305h1v1h-1zM120 305h1v1h-1zM121 305h1v1h-1zM122 305h1v1h-1zM124 305h1v1h-1zM126 305h1v1h-1zM136 305h1v1h-1zM54 306h1v1h-1zM58 306h1v1h-1zM71 306h1v1h-1zM81 306h1v1h-1zM89 306h1v1h-1zM96 306h1v1h-1zM97 306h1v1h-1zM101 306h1v1h-1zM108 306h1v1h-1zM112 306h1v1h-1zM114 306h1v1h-1zM115 306h1v1h-1zM116 306h1v1h-1zM117 306h1v1h-1zM118 306h1v1h-1zM119 306h1v1h-1zM121 306h1v1h-1zM122 306h1v1h-1zM123 306h1v1h-1zM124 306h1v1h-1zM126 306h1v1h-1zM128 306h1v1h-1zM130 306h1v1h-1zM134 306h1v1h-1zM58 307h1v1h-1zM68 307h1v1h-1zM79 307h1v1h-1zM97 307h1v1h-1zM98 307h1v1h-1zM99 307h1v1h-1zM105 307h1v1h-1zM109 307h1v1h-1zM110 307h1v1h-1zM111 307h1v1h-1zM112 307h1v1h-1zM113 307h1v1h-1zM114 307h1v1h-1zM115 307h1v1h-1zM118 307h1v1h-1zM119 307h1v1h-1zM120 307h1v1h-1zM121 307h1v1h-1zM124 307h1v1h-1zM125 307h1v1h-1zM57 308h1v1h-1zM63 308h1v1h-1zM65 308h1v1h-1zM66 308h1v1h-1zM71 308h1v1h-1zM79 308h1v1h-1zM84 308h1v1h-1zM97 308h1v1h-1zM99 308h1v1h-1zM100 308h1v1h-1zM104 308h1v1h-1zM107 308h1v1h-1zM109 308h1v1h-1zM113 308h1v1h-1zM115 308h1v1h-1zM117 308h1v1h-1zM118 308h1v1h-1zM119 308h1v1h-1zM120 308h1v1h-1zM121 308h1v1h-1zM123 308h1v1h-1zM68 309h1v1h-1zM70 309h1v1h-1zM83 309h1v1h-1zM92 309h1v1h-1zM100 309h1v1h-1zM101 309h1v1h-1zM105 309h1v1h-1zM107 309h1v1h-1zM109 309h1v1h-1zM114 309h1v1h-1zM115 309h1v1h-1zM116 309h1v1h-1zM117 309h1v1h-1zM118 309h1v1h-1zM119 309h1v1h-1zM120 309h1v1h-1zM121 309h1v1h-1zM122 309h1v1h-1zM125 309h1v1h-1zM54 310h1v1h-1zM67 310h1v1h-1zM80 310h1v1h-1zM83 310h1v1h-1zM84 310h1v1h-1zM90 310h1v1h-1zM93 310h1v1h-1zM95 310h1v1h-1zM99 310h1v1h-1zM102 310h1v1h-1zM104 310h1v1h-1zM106 310h1v1h-1zM108 310h1v1h-1zM111 310h1v1h-1zM112 310h1v1h-1zM114 310h1v1h-1zM115 310h1v1h-1zM117 310h1v1h-1zM118 310h1v1h-1zM119 310h1v1h-1zM123 310h1v1h-1zM128 310h1v1h-1zM52 311h1v1h-1zM63 311h1v1h-1zM68 311h1v1h-1zM74 311h1v1h-1zM82 311h1v1h-1zM87 311h1v1h-1zM89 311h1v1h-1zM96 311h1v1h-1zM100 311h1v1h-1zM103 311h1v1h-1zM104 311h1v1h-1zM105 311h1v1h-1zM110 311h1v1h-1zM117 311h1v1h-1zM119 311h1v1h-1zM120 311h1v1h-1zM121 311h1v1h-1zM123 311h1v1h-1zM124 311h1v1h-1zM125 311h1v1h-1zM127 311h1v1h-1zM57 312h1v1h-1zM60 312h1v1h-1zM61 312h1v1h-1zM63 312h1v1h-1zM73 312h1v1h-1zM75 312h1v1h-1zM77 312h1v1h-1zM78 312h1v1h-1zM84 312h1v1h-1zM88 312h1v1h-1zM92 312h1v1h-1zM95 312h1v1h-1zM100 312h1v1h-1zM102 312h1v1h-1zM103 312h1v1h-1zM106 312h1v1h-1zM108 312h1v1h-1zM109 312h1v1h-1zM110 312h1v1h-1zM117 312h1v1h-1zM119 312h1v1h-1zM121 312h1v1h-1zM123 312h1v1h-1zM124 312h1v1h-1zM125 312h1v1h-1zM71 313h1v1h-1zM73 313h1v1h-1zM77 313h1v1h-1zM93 313h1v1h-1zM98 313h1v1h-1zM102 313h1v1h-1zM110 313h1v1h-1zM118 313h1v1h-1zM120 313h1v1h-1zM125 313h1v1h-1zM65 314h1v1h-1zM71 314h1v1h-1zM76 314h1v1h-1zM78 314h1v1h-1zM83 314h1v1h-1zM84 314h1v1h-1zM92 314h1v1h-1zM105 314h1v1h-1zM107 314h1v1h-1zM118 314h1v1h-1zM121 314h1v1h-1zM123 314h1v1h-1zM60 315h1v1h-1zM62 315h1v1h-1zM69 315h1v1h-1zM80 315h1v1h-1zM84 315h1v1h-1zM100 315h1v1h-1zM111 315h1v1h-1zM115 315h1v1h-1zM118 315h1v1h-1zM124 315h1v1h-1zM75 316h1v1h-1zM79 316h1v1h-1zM93 316h1v1h-1zM110 316h1v1h-1zM126 316h1v1h-1zM129 316h1v1h-1zM60 317h1v1h-1zM62 317h1v1h-1zM63 317h1v1h-1zM72 317h1v1h-1zM76 317h1v1h-1zM83 317h1v1h-1zM92 317h1v1h-1zM117 317h1v1h-1zM123 317h1v1h-1zM125 317h1v1h-1zM52 318h1v1h-1zM61 318h1v1h-1zM66 318h1v1h-1zM73 318h1v1h-1zM77 318h1v1h-1zM83 318h1v1h-1zM92 318h1v1h-1zM100 318h1v1h-1zM109 318h1v1h-1zM110 318h1v1h-1zM111 318h1v1h-1zM113 318h1v1h-1zM115 318h1v1h-1zM139 318h1v1h-1zM52 319h1v1h-1zM67 319h1v1h-1zM75 319h1v1h-1zM59 320h1v1h-1zM76 320h1v1h-1zM79 320h1v1h-1zM81 320h1v1h-1zM82 320h1v1h-1zM87 320h1v1h-1zM101 320h1v1h-1zM103 320h1v1h-1zM109 320h1v1h-1zM111 320h1v1h-1zM113 320h1v1h-1zM54 321h1v1h-1zM60 321h1v1h-1zM65 321h1v1h-1zM66 321h1v1h-1zM71 321h1v1h-1zM73 321h1v1h-1zM77 321h1v1h-1zM80 321h1v1h-1zM89 321h1v1h-1zM101 321h1v1h-1zM107 321h1v1h-1zM108 321h1v1h-1zM109 321h1v1h-1zM110 321h1v1h-1zM114 321h1v1h-1zM119 321h1v1h-1zM121 321h1v1h-1zM126 321h1v1h-1zM53 322h1v1h-1zM59 322h1v1h-1zM60 322h1v1h-1zM61 322h1v1h-1zM62 322h1v1h-1zM63 322h1v1h-1zM65 322h1v1h-1zM66 322h1v1h-1zM68 322h1v1h-1zM72 322h1v1h-1zM73 322h1v1h-1zM82 322h1v1h-1zM89 322h1v1h-1zM92 322h1v1h-1zM102 322h1v1h-1zM110 322h1v1h-1zM113 322h1v1h-1zM118 322h1v1h-1zM122 322h1v1h-1zM51 323h1v1h-1zM67 323h1v1h-1zM68 323h1v1h-1zM69 323h1v1h-1zM71 323h1v1h-1zM72 323h1v1h-1zM82 323h1v1h-1zM83 323h1v1h-1zM87 323h1v1h-1zM93 323h1v1h-1zM95 323h1v1h-1zM97 323h1v1h-1zM103 323h1v1h-1zM107 323h1v1h-1zM108 323h1v1h-1zM110 323h1v1h-1zM112 323h1v1h-1zM113 323h1v1h-1zM114 323h1v1h-1zM115 323h1v1h-1zM116 323h1v1h-1zM118 323h1v1h-1zM119 323h1v1h-1zM121 323h1v1h-1zM123 323h1v1h-1zM64 324h1v1h-1zM66 324h1v1h-1zM69 324h1v1h-1zM72 324h1v1h-1zM74 324h1v1h-1zM78 324h1v1h-1zM79 324h1v1h-1zM80 324h1v1h-1zM84 324h1v1h-1zM85 324h1v1h-1zM86 324h1v1h-1zM88 324h1v1h-1zM91 324h1v1h-1zM97 324h1v1h-1zM99 324h1v1h-1zM101 324h1v1h-1zM109 324h1v1h-1zM110 324h1v1h-1zM111 324h1v1h-1zM112 324h1v1h-1zM114 324h1v1h-1zM115 324h1v1h-1zM116 324h1v1h-1zM119 324h1v1h-1zM121 324h1v1h-1zM123 324h1v1h-1zM60 325h1v1h-1zM61 325h1v1h-1zM75 325h1v1h-1zM76 325h1v1h-1zM79 325h1v1h-1zM88 325h1v1h-1zM89 325h1v1h-1zM100 325h1v1h-1zM102 325h1v1h-1zM103 325h1v1h-1zM106 325h1v1h-1zM107 325h1v1h-1zM108 325h1v1h-1zM109 325h1v1h-1zM110 325h1v1h-1zM111 325h1v1h-1zM113 325h1v1h-1zM114 325h1v1h-1zM115 325h1v1h-1zM122 325h1v1h-1zM51 326h1v1h-1zM55 326h1v1h-1zM56 326h1v1h-1zM63 326h1v1h-1zM69 326h1v1h-1zM72 326h1v1h-1zM75 326h1v1h-1zM76 326h1v1h-1zM78 326h1v1h-1zM103 326h1v1h-1zM104 326h1v1h-1zM108 326h1v1h-1zM110 326h1v1h-1zM111 326h1v1h-1zM112 326h1v1h-1zM113 326h1v1h-1zM114 326h1v1h-1zM115 326h1v1h-1zM116 326h1v1h-1zM122 326h1v1h-1zM127 326h1v1h-1zM57 327h1v1h-1zM60 327h1v1h-1zM64 327h1v1h-1zM69 327h1v1h-1zM70 327h1v1h-1zM72 327h1v1h-1zM73 327h1v1h-1zM75 327h1v1h-1zM77 327h1v1h-1zM78 327h1v1h-1zM86 327h1v1h-1zM92 327h1v1h-1zM93 327h1v1h-1zM96 327h1v1h-1zM99 327h1v1h-1zM100 327h1v1h-1zM104 327h1v1h-1zM108 327h1v1h-1zM109 327h1v1h-1zM110 327h1v1h-1zM111 327h1v1h-1zM113 327h1v1h-1zM117 327h1v1h-1zM118 327h1v1h-1zM123 327h1v1h-1zM55 328h1v1h-1zM56 328h1v1h-1zM62 328h1v1h-1zM63 328h1v1h-1zM64 328h1v1h-1zM66 328h1v1h-1zM67 328h1v1h-1zM68 328h1v1h-1zM71 328h1v1h-1zM72 328h1v1h-1zM74 328h1v1h-1zM75 328h1v1h-1zM77 328h1v1h-1zM79 328h1v1h-1zM82 328h1v1h-1zM83 328h1v1h-1zM87 328h1v1h-1zM99 328h1v1h-1zM100 328h1v1h-1zM103 328h1v1h-1zM104 328h1v1h-1zM105 328h1v1h-1zM106 328h1v1h-1zM107 328h1v1h-1zM108 328h1v1h-1zM109 328h1v1h-1zM112 328h1v1h-1zM113 328h1v1h-1zM114 328h1v1h-1zM115 328h1v1h-1zM117 328h1v1h-1zM121 328h1v1h-1zM54 329h1v1h-1zM55 329h1v1h-1zM57 329h1v1h-1zM58 329h1v1h-1zM61 329h1v1h-1zM63 329h1v1h-1zM66 329h1v1h-1zM67 329h1v1h-1zM69 329h1v1h-1zM70 329h1v1h-1zM71 329h1v1h-1zM72 329h1v1h-1zM73 329h1v1h-1zM74 329h1v1h-1zM75 329h1v1h-1zM76 329h1v1h-1zM77 329h1v1h-1zM78 329h1v1h-1zM79 329h1v1h-1zM81 329h1v1h-1zM82 329h1v1h-1zM83 329h1v1h-1zM85 329h1v1h-1zM86 329h1v1h-1zM91 329h1v1h-1zM93 329h1v1h-1zM96 329h1v1h-1zM98 329h1v1h-1zM99 329h1v1h-1zM100 329h1v1h-1zM105 329h1v1h-1zM106 329h1v1h-1zM107 329h1v1h-1zM108 329h1v1h-1zM110 329h1v1h-1zM111 329h1v1h-1zM112 329h1v1h-1zM114 329h1v1h-1zM115 329h1v1h-1zM116 329h1v1h-1zM118 329h1v1h-1zM56 330h1v1h-1zM58 330h1v1h-1zM59 330h1v1h-1zM61 330h1v1h-1zM63 330h1v1h-1zM64 330h1v1h-1zM65 330h1v1h-1zM67 330h1v1h-1zM69 330h1v1h-1zM70 330h1v1h-1zM71 330h1v1h-1zM72 330h1v1h-1zM74 330h1v1h-1zM75 330h1v1h-1zM76 330h1v1h-1zM77 330h1v1h-1zM79 330h1v1h-1zM80 330h1v1h-1zM82 330h1v1h-1zM83 330h1v1h-1zM84 330h1v1h-1zM87 330h1v1h-1zM88 330h1v1h-1zM94 330h1v1h-1zM96 330h1v1h-1zM97 330h1v1h-1zM98 330h1v1h-1zM100 330h1v1h-1zM103 330h1v1h-1zM104 330h1v1h-1zM105 330h1v1h-1zM106 330h1v1h-1zM108 330h1v1h-1zM109 330h1v1h-1zM110 330h1v1h-1zM111 330h1v1h-1zM112 330h1v1h-1zM113 330h1v1h-1zM114 330h1v1h-1zM115 330h1v1h-1zM116 330h1v1h-1zM118 330h1v1h-1zM121 330h1v1h-1zM53 331h1v1h-1zM54 331h1v1h-1zM55 331h1v1h-1zM57 331h1v1h-1zM59 331h1v1h-1zM62 331h1v1h-1zM63 331h1v1h-1zM64 331h1v1h-1zM66 331h1v1h-1zM67 331h1v1h-1zM68 331h1v1h-1zM69 331h1v1h-1zM70 331h1v1h-1zM71 331h1v1h-1zM73 331h1v1h-1zM74 331h1v1h-1zM75 331h1v1h-1zM76 331h1v1h-1zM77 331h1v1h-1zM80 331h1v1h-1zM82 331h1v1h-1zM84 331h1v1h-1zM85 331h1v1h-1zM86 331h1v1h-1zM87 331h1v1h-1zM89 331h1v1h-1zM97 331h1v1h-1zM98 331h1v1h-1zM99 331h1v1h-1zM101 331h1v1h-1zM102 331h1v1h-1zM103 331h1v1h-1zM104 331h1v1h-1zM105 331h1v1h-1zM106 331h1v1h-1zM107 331h1v1h-1zM108 331h1v1h-1zM109 331h1v1h-1zM111 331h1v1h-1zM112 331h1v1h-1zM114 331h1v1h-1zM119 331h1v1h-1zM120 331h1v1h-1zM121 331h1v1h-1zM122 331h1v1h-1zM130 331h1v1h-1zM51 332h1v1h-1zM52 332h1v1h-1zM53 332h1v1h-1zM55 332h1v1h-1zM56 332h1v1h-1zM58 332h1v1h-1zM59 332h1v1h-1zM60 332h1v1h-1zM61 332h1v1h-1zM63 332h1v1h-1zM64 332h1v1h-1zM65 332h1v1h-1zM66 332h1v1h-1zM67 332h1v1h-1zM68 332h1v1h-1zM69 332h1v1h-1zM70 332h1v1h-1zM71 332h1v1h-1zM72 332h1v1h-1zM73 332h1v1h-1zM74 332h1v1h-1zM75 332h1v1h-1zM76 332h1v1h-1zM77 332h1v1h-1zM78 332h1v1h-1zM79 332h1v1h-1zM80 332h1v1h-1zM81 332h1v1h-1zM82 332h1v1h-1zM85 332h1v1h-1zM87 332h1v1h-1zM88 332h1v1h-1zM90 332h1v1h-1zM92 332h1v1h-1zM96 332h1v1h-1zM97 332h1v1h-1zM98 332h1v1h-1zM99 332h1v1h-1zM100 332h1v1h-1zM102 332h1v1h-1zM103 332h1v1h-1zM104 332h1v1h-1zM105 332h1v1h-1zM106 332h1v1h-1zM107 332h1v1h-1zM108 332h1v1h-1zM109 332h1v1h-1zM111 332h1v1h-1zM112 332h1v1h-1zM115 332h1v1h-1zM120 332h1v1h-1zM52 333h1v1h-1zM53 333h1v1h-1zM54 333h1v1h-1zM55 333h1v1h-1zM56 333h1v1h-1zM57 333h1v1h-1zM58 333h1v1h-1zM59 333h1v1h-1zM60 333h1v1h-1zM62 333h1v1h-1zM63 333h1v1h-1zM64 333h1v1h-1zM65 333h1v1h-1zM66 333h1v1h-1zM67 333h1v1h-1zM68 333h1v1h-1zM69 333h1v1h-1zM70 333h1v1h-1zM71 333h1v1h-1zM72 333h1v1h-1zM73 333h1v1h-1zM74 333h1v1h-1zM75 333h1v1h-1zM76 333h1v1h-1zM77 333h1v1h-1zM78 333h1v1h-1zM79 333h1v1h-1zM80 333h1v1h-1zM82 333h1v1h-1zM83 333h1v1h-1zM84 333h1v1h-1zM85 333h1v1h-1zM86 333h1v1h-1zM88 333h1v1h-1zM95 333h1v1h-1zM96 333h1v1h-1zM98 333h1v1h-1zM100 333h1v1h-1zM102 333h1v1h-1zM103 333h1v1h-1zM104 333h1v1h-1zM105 333h1v1h-1zM106 333h1v1h-1zM107 333h1v1h-1zM111 333h1v1h-1zM113 333h1v1h-1zM115 333h1v1h-1zM117 333h1v1h-1zM119 333h1v1h-1zM121 333h1v1h-1zM126 333h1v1h-1zM127 333h1v1h-1zM53 334h1v1h-1zM54 334h1v1h-1zM56 334h1v1h-1zM57 334h1v1h-1zM58 334h1v1h-1zM59 334h1v1h-1zM60 334h1v1h-1zM61 334h1v1h-1zM62 334h1v1h-1zM63 334h1v1h-1zM64 334h1v1h-1zM65 334h1v1h-1zM66 334h1v1h-1zM67 334h1v1h-1zM68 334h1v1h-1zM69 334h1v1h-1zM70 334h1v1h-1zM71 334h1v1h-1zM72 334h1v1h-1zM73 334h1v1h-1zM74 334h1v1h-1zM75 334h1v1h-1zM76 334h1v1h-1zM77 334h1v1h-1zM78 334h1v1h-1zM79 334h1v1h-1zM80 334h1v1h-1zM81 334h1v1h-1zM82 334h1v1h-1zM83 334h1v1h-1zM84 334h1v1h-1zM86 334h1v1h-1zM87 334h1v1h-1zM88 334h1v1h-1zM90 334h1v1h-1zM91 334h1v1h-1zM93 334h1v1h-1zM95 334h1v1h-1zM98 334h1v1h-1zM99 334h1v1h-1zM100 334h1v1h-1zM101 334h1v1h-1zM104 334h1v1h-1zM105 334h1v1h-1zM106 334h1v1h-1zM107 334h1v1h-1zM109 334h1v1h-1zM111 334h1v1h-1zM112 334h1v1h-1zM128 334h1v1h-1zM53 335h1v1h-1zM54 335h1v1h-1zM55 335h1v1h-1zM56 335h1v1h-1zM58 335h1v1h-1zM59 335h1v1h-1zM60 335h1v1h-1zM61 335h1v1h-1zM62 335h1v1h-1zM63 335h1v1h-1zM64 335h1v1h-1zM65 335h1v1h-1zM66 335h1v1h-1zM67 335h1v1h-1zM68 335h1v1h-1zM69 335h1v1h-1zM71 335h1v1h-1zM72 335h1v1h-1zM73 335h1v1h-1zM74 335h1v1h-1zM76 335h1v1h-1zM77 335h1v1h-1zM78 335h1v1h-1zM80 335h1v1h-1zM81 335h1v1h-1zM82 335h1v1h-1zM83 335h1v1h-1zM84 335h1v1h-1zM86 335h1v1h-1zM87 335h1v1h-1zM88 335h1v1h-1zM90 335h1v1h-1zM91 335h1v1h-1zM93 335h1v1h-1zM94 335h1v1h-1zM97 335h1v1h-1zM98 335h1v1h-1zM100 335h1v1h-1zM102 335h1v1h-1zM104 335h1v1h-1zM105 335h1v1h-1zM110 335h1v1h-1zM111 335h1v1h-1zM112 335h1v1h-1zM114 335h1v1h-1zM51 336h1v1h-1zM52 336h1v1h-1zM53 336h1v1h-1zM55 336h1v1h-1zM56 336h1v1h-1zM58 336h1v1h-1zM59 336h1v1h-1zM60 336h1v1h-1zM61 336h1v1h-1zM62 336h1v1h-1zM63 336h1v1h-1zM64 336h1v1h-1zM65 336h1v1h-1zM66 336h1v1h-1zM67 336h1v1h-1zM68 336h1v1h-1zM69 336h1v1h-1zM70 336h1v1h-1zM71 336h1v1h-1zM74 336h1v1h-1zM75 336h1v1h-1zM76 336h1v1h-1zM77 336h1v1h-1zM78 336h1v1h-1zM79 336h1v1h-1zM80 336h1v1h-1zM81 336h1v1h-1zM82 336h1v1h-1zM83 336h1v1h-1zM84 336h1v1h-1zM85 336h1v1h-1zM87 336h1v1h-1zM88 336h1v1h-1zM89 336h1v1h-1zM92 336h1v1h-1zM93 336h1v1h-1zM96 336h1v1h-1zM97 336h1v1h-1zM98 336h1v1h-1zM99 336h1v1h-1zM100 336h1v1h-1zM101 336h1v1h-1zM102 336h1v1h-1zM103 336h1v1h-1zM104 336h1v1h-1zM105 336h1v1h-1zM106 336h1v1h-1zM107 336h1v1h-1zM108 336h1v1h-1zM109 336h1v1h-1zM110 336h1v1h-1zM111 336h1v1h-1zM116 336h1v1h-1z" fill="#ed1c24"/>
<path d="M134 281h1v1h-1zM123 286h1v1h-1zM133 286h1v1h-1zM125 288h1v1h-1zM127 288h1v1h-1zM114 289h1v1h-1zM125 289h1v1h-1zM135 289h1v1h-1zM132 290h1v1h-1zM119 291h1v1h-1zM85 292h1v1h-1zM131 292h1v1h-1zM108 293h1v1h-1zM131 294h1v1h-1zM59 295h1v1h-1zM110 295h1v1h-1zM108 296h1v1h-1zM139 296h1v1h-1zM71 297h1v1h-1zM82 297h1v1h-1zM105 297h1v1h-1zM109 297h1v1h-1zM113 297h1v1h-1zM67 298h1v1h-1zM78 298h1v1h-1zM82 298h1v1h-1zM91 298h1v1h-1zM106 298h1v1h-1zM113 298h1v1h-1zM68 299h1v1h-1zM83 299h1v1h-1zM108 299h1v1h-1zM110 299h1v1h-1zM54 300h1v1h-1zM59 300h1v1h-1zM62 300h1v1h-1zM79 300h1v1h-1zM92 300h1v1h-1zM76 301h1v1h-1zM91 301h1v1h-1zM102 301h1v1h-1zM104 301h1v1h-1zM60 302h1v1h-1zM77 302h1v1h-1zM80 302h1v1h-1zM95 302h1v1h-1zM109 302h1v1h-1zM63 303h1v1h-1zM70 303h1v1h-1zM72 303h1v1h-1zM92 303h1v1h-1zM101 303h1v1h-1zM106 303h1v1h-1zM110 303h1v1h-1zM129 303h1v1h-1zM131 303h1v1h-1zM72 304h1v1h-1zM83 304h1v1h-1zM107 304h1v1h-1zM109 304h1v1h-1zM60 305h1v1h-1zM81 305h1v1h-1zM105 305h1v1h-1zM106 305h1v1h-1zM59 306h1v1h-1zM73 306h1v1h-1zM90 306h1v1h-1zM103 306h1v1h-1zM59 307h1v1h-1zM63 307h1v1h-1zM81 307h1v1h-1zM100 307h1v1h-1zM102 307h1v1h-1zM106 307h1v1h-1zM108 307h1v1h-1zM88 308h1v1h-1zM110 308h1v1h-1zM127 308h1v1h-1zM56 309h1v1h-1zM80 309h1v1h-1zM99 309h1v1h-1zM110 309h1v1h-1zM128 309h1v1h-1zM62 310h1v1h-1zM63 310h1v1h-1zM89 310h1v1h-1zM94 310h1v1h-1zM59 311h1v1h-1zM61 311h1v1h-1zM65 311h1v1h-1zM97 311h1v1h-1zM99 311h1v1h-1zM67 312h1v1h-1zM86 312h1v1h-1zM114 312h1v1h-1zM51 313h1v1h-1zM52 313h1v1h-1zM59 313h1v1h-1zM61 313h1v1h-1zM84 313h1v1h-1zM87 313h1v1h-1zM97 313h1v1h-1zM101 313h1v1h-1zM105 313h1v1h-1zM113 313h1v1h-1zM114 313h1v1h-1zM124 313h1v1h-1zM66 314h1v1h-1zM67 314h1v1h-1zM69 314h1v1h-1zM98 314h1v1h-1zM104 314h1v1h-1zM113 314h1v1h-1zM117 314h1v1h-1zM122 314h1v1h-1zM125 314h1v1h-1zM128 314h1v1h-1zM56 315h1v1h-1zM58 315h1v1h-1zM85 315h1v1h-1zM117 315h1v1h-1zM135 315h1v1h-1zM60 316h1v1h-1zM62 316h1v1h-1zM68 316h1v1h-1zM92 316h1v1h-1zM108 316h1v1h-1zM111 316h1v1h-1zM113 316h1v1h-1zM120 316h1v1h-1zM64 317h1v1h-1zM67 317h1v1h-1zM82 317h1v1h-1zM116 317h1v1h-1zM124 317h1v1h-1zM64 318h1v1h-1zM68 318h1v1h-1zM78 318h1v1h-1zM84 318h1v1h-1zM102 318h1v1h-1zM108 318h1v1h-1zM117 318h1v1h-1zM118 318h1v1h-1zM123 318h1v1h-1zM71 319h1v1h-1zM102 319h1v1h-1zM107 319h1v1h-1zM114 319h1v1h-1zM116 319h1v1h-1zM74 320h1v1h-1zM114 320h1v1h-1zM124 320h1v1h-1zM131 320h1v1h-1zM52 321h1v1h-1zM64 321h1v1h-1zM68 321h1v1h-1zM76 321h1v1h-1zM82 321h1v1h-1zM84 321h1v1h-1zM85 321h1v1h-1zM86 321h1v1h-1zM99 321h1v1h-1zM113 321h1v1h-1zM71 322h1v1h-1zM81 322h1v1h-1zM84 322h1v1h-1zM98 322h1v1h-1zM109 322h1v1h-1zM115 322h1v1h-1zM116 322h1v1h-1zM76 323h1v1h-1zM134 323h1v1h-1zM55 324h1v1h-1zM60 324h1v1h-1zM62 324h1v1h-1zM68 324h1v1h-1zM92 324h1v1h-1zM98 324h1v1h-1zM105 324h1v1h-1zM126 324h1v1h-1zM67 325h1v1h-1zM68 325h1v1h-1zM70 325h1v1h-1zM80 325h1v1h-1zM130 325h1v1h-1zM60 326h1v1h-1zM89 326h1v1h-1zM96 326h1v1h-1zM97 326h1v1h-1zM101 326h1v1h-1zM125 326h1v1h-1zM89 327h1v1h-1zM85 328h1v1h-1zM116 328h1v1h-1zM120 329h1v1h-1zM55 330h1v1h-1zM89 330h1v1h-1zM90 330h1v1h-1zM118 334h1v1h-1zM124 334h1v1h-1z" fill="#f06a72"/>
</g>
<line x1="45.30" y1="143.90" x2="50.80" y2="143.90" stroke="#7d7d7d" stroke-width="1.3"/>
<line x1="47.80" y1="135.25" x2="50.80" y2="135.25" stroke="#7d7d7d" stroke-width="1.1"/>
<line x1="47.80" y1="130.28" x2="50.80" y2="130.28" stroke="#7d7d7d" stroke-width="1.1"/>
<line x1="47.80" y1="127.13" x2="50.80" y2="127.13" stroke="#7d7d7d" stroke-width="1.1"/>
<line x1="47.80" y1="124.51" x2="50.80" y2="124.51" stroke="#7d7d7d" stroke-width="1.1"/>
<line x1="47.80" y1="122.42" x2="50.80" y2="122.42" stroke="#7d7d7d" stroke-width="1.1"/>
<line x1="47.80" y1="120.32" x2="50.80" y2="120.32" stroke="#7d7d7d" stroke-width="1.1"/>
<line x1="45.30" y1="117.70" x2="50.80" y2="117.70" stroke="#7d7d7d" stroke-width="1.3"/>
<line x1="47.80" y1="108.89" x2="50.80" y2="108.89" stroke="#7d7d7d" stroke-width="1.1"/>
<line x1="47.80" y1="103.82" x2="50.80" y2="103.82" stroke="#7d7d7d" stroke-width="1.1"/>
<line x1="47.80" y1="100.61" x2="50.80" y2="100.61" stroke="#7d7d7d" stroke-width="1.1"/>
<line x1="47.80" y1="97.94" x2="50.80" y2="97.94" stroke="#7d7d7d" stroke-width="1.1"/>
<line x1="47.80" y1="95.81" x2="50.80" y2="95.81" stroke="#7d7d7d" stroke-width="1.1"/>
<line x1="47.80" y1="93.67" x2="50.80" y2="93.67" stroke="#7d7d7d" stroke-width="1.1"/>
<line x1="45.30" y1="91.00" x2="50.80" y2="91.00" stroke="#7d7d7d" stroke-width="1.3"/>
<line x1="47.80" y1="82.32" x2="50.80" y2="82.32" stroke="#7d7d7d" stroke-width="1.1"/>
<line x1="47.80" y1="77.32" x2="50.80" y2="77.32" stroke="#7d7d7d" stroke-width="1.1"/>
<line x1="47.80" y1="74.17" x2="50.80" y2="74.17" stroke="#7d7d7d" stroke-width="1.1"/>
<line x1="47.80" y1="71.54" x2="50.80" y2="71.54" stroke="#7d7d7d" stroke-width="1.1"/>
<line x1="47.80" y1="69.43" x2="50.80" y2="69.43" stroke="#7d7d7d" stroke-width="1.1"/>
<line x1="47.80" y1="67.33" x2="50.80" y2="67.33" stroke="#7d7d7d" stroke-width="1.1"/>
<line x1="45.30" y1="64.70" x2="50.80" y2="64.70" stroke="#7d7d7d" stroke-width="1.3"/>
<line x1="47.80" y1="55.53" x2="50.80" y2="55.53" stroke="#7d7d7d" stroke-width="1.1"/>
<line x1="47.80" y1="50.24" x2="50.80" y2="50.24" stroke="#7d7d7d" stroke-width="1.1"/>
<line x1="47.80" y1="46.91" x2="50.80" y2="46.91" stroke="#7d7d7d" stroke-width="1.1"/>
<line x1="47.80" y1="44.13" x2="50.80" y2="44.13" stroke="#7d7d7d" stroke-width="1.1"/>
<line x1="47.80" y1="41.90" x2="50.80" y2="41.90" stroke="#7d7d7d" stroke-width="1.1"/>
<line x1="47.80" y1="39.68" x2="50.80" y2="39.68" stroke="#7d7d7d" stroke-width="1.1"/>
<line x1="45.30" y1="36.90" x2="50.80" y2="36.90" stroke="#7d7d7d" stroke-width="1.3"/>
<line x1="47.80" y1="28.22" x2="50.80" y2="28.22" stroke="#7d7d7d" stroke-width="1.1"/>
<line x1="47.80" y1="23.22" x2="50.80" y2="23.22" stroke="#7d7d7d" stroke-width="1.1"/>
<line x1="47.80" y1="20.07" x2="50.80" y2="20.07" stroke="#7d7d7d" stroke-width="1.1"/>
<line x1="47.80" y1="17.44" x2="50.80" y2="17.44" stroke="#7d7d7d" stroke-width="1.1"/>
<line x1="47.80" y1="15.33" x2="50.80" y2="15.33" stroke="#7d7d7d" stroke-width="1.1"/>
<line x1="47.80" y1="13.23" x2="50.80" y2="13.23" stroke="#7d7d7d" stroke-width="1.1"/>
<line x1="45.30" y1="10.60" x2="50.80" y2="10.60" stroke="#7d7d7d" stroke-width="1.3"/>
<line x1="52.80" y1="145.80" x2="52.80" y2="151.80" stroke="#7d7d7d" stroke-width="1.3"/>
<line x1="63.57" y1="145.80" x2="63.57" y2="149.20" stroke="#7d7d7d" stroke-width="1.1"/>
<line x1="70.39" y1="145.80" x2="70.39" y2="149.20" stroke="#7d7d7d" stroke-width="1.1"/>
<line x1="75.42" y1="145.80" x2="75.42" y2="149.20" stroke="#7d7d7d" stroke-width="1.1"/>
<line x1="80.80" y1="145.80" x2="80.80" y2="149.20" stroke="#7d7d7d" stroke-width="1.1"/>
<line x1="83.67" y1="145.80" x2="83.67" y2="149.20" stroke="#7d7d7d" stroke-width="1.1"/>
<line x1="86.19" y1="145.80" x2="86.19" y2="149.20" stroke="#7d7d7d" stroke-width="1.1"/>
<line x1="88.70" y1="145.80" x2="88.70" y2="151.80" stroke="#7d7d7d" stroke-width="1.3"/>
<line x1="99.74" y1="145.80" x2="99.74" y2="149.20" stroke="#7d7d7d" stroke-width="1.1"/>
<line x1="106.73" y1="145.80" x2="106.73" y2="149.20" stroke="#7d7d7d" stroke-width="1.1"/>
<line x1="111.88" y1="145.80" x2="111.88" y2="149.20" stroke="#7d7d7d" stroke-width="1.1"/>
<line x1="117.40" y1="145.80" x2="117.40" y2="149.20" stroke="#7d7d7d" stroke-width="1.1"/>
<line x1="120.35" y1="145.80" x2="120.35" y2="149.20" stroke="#7d7d7d" stroke-width="1.1"/>
<line x1="122.92" y1="145.80" x2="122.92" y2="149.20" stroke="#7d7d7d" stroke-width="1.1"/>
<line x1="125.50" y1="145.80" x2="125.50" y2="151.80" stroke="#7d7d7d" stroke-width="1.3"/>
<line x1="135.70" y1="145.80" x2="135.70" y2="149.20" stroke="#7d7d7d" stroke-width="1.1"/>
<line x1="142.16" y1="145.80" x2="142.16" y2="149.20" stroke="#7d7d7d" stroke-width="1.1"/>
<line x1="146.92" y1="145.80" x2="146.92" y2="149.20" stroke="#7d7d7d" stroke-width="1.1"/>
<line x1="152.02" y1="145.80" x2="152.02" y2="149.20" stroke="#7d7d7d" stroke-width="1.1"/>
<line x1="154.74" y1="145.80" x2="154.74" y2="149.20" stroke="#7d7d7d" stroke-width="1.1"/>
<line x1="157.12" y1="145.80" x2="157.12" y2="149.20" stroke="#7d7d7d" stroke-width="1.1"/>
<line x1="159.50" y1="145.80" x2="159.50" y2="151.80" stroke="#7d7d7d" stroke-width="1.3"/>
<line x1="169.82" y1="145.80" x2="169.82" y2="149.20" stroke="#7d7d7d" stroke-width="1.1"/>
<line x1="176.36" y1="145.80" x2="176.36" y2="149.20" stroke="#7d7d7d" stroke-width="1.1"/>
<line x1="181.17" y1="145.80" x2="181.17" y2="149.20" stroke="#7d7d7d" stroke-width="1.1"/>
<line x1="186.33" y1="145.80" x2="186.33" y2="149.20" stroke="#7d7d7d" stroke-width="1.1"/>
<line x1="189.08" y1="145.80" x2="189.08" y2="149.20" stroke="#7d7d7d" stroke-width="1.1"/>
<line x1="191.49" y1="145.80" x2="191.49" y2="149.20" stroke="#7d7d7d" stroke-width="1.1"/>
<line x1="193.90" y1="145.80" x2="193.90" y2="151.80" stroke="#7d7d7d" stroke-width="1.3"/>
<line x1="204.85" y1="145.80" x2="204.85" y2="149.20" stroke="#7d7d7d" stroke-width="1.1"/>
<line x1="211.78" y1="145.80" x2="211.78" y2="149.20" stroke="#7d7d7d" stroke-width="1.1"/>
<line x1="216.90" y1="145.80" x2="216.90" y2="149.20" stroke="#7d7d7d" stroke-width="1.1"/>
<line x1="222.37" y1="145.80" x2="222.37" y2="149.20" stroke="#7d7d7d" stroke-width="1.1"/>
<line x1="225.29" y1="145.80" x2="225.29" y2="149.20" stroke="#7d7d7d" stroke-width="1.1"/>
<line x1="227.84" y1="145.80" x2="227.84" y2="149.20" stroke="#7d7d7d" stroke-width="1.1"/>
<line x1="230.40" y1="145.80" x2="230.40" y2="151.80" stroke="#7d7d7d" stroke-width="1.3"/>
<rect x="50.80" y="6.60" width="184.40" height="139.20" fill="none" stroke="#7d7d7d" stroke-width="1.6"/>
<line x1="44.40" y1="336.40" x2="49.90" y2="336.40" stroke="#7d7d7d" stroke-width="1.3"/>
<line x1="46.90" y1="327.32" x2="49.90" y2="327.32" stroke="#7d7d7d" stroke-width="1.1"/>
<line x1="46.90" y1="322.10" x2="49.90" y2="322.10" stroke="#7d7d7d" stroke-width="1.1"/>
<line x1="46.90" y1="318.80" x2="49.90" y2="318.80" stroke="#7d7d7d" stroke-width="1.1"/>
<line x1="46.90" y1="316.05" x2="49.90" y2="316.05" stroke="#7d7d7d" stroke-width="1.1"/>
<line x1="46.90" y1="313.85" x2="49.90" y2="313.85" stroke="#7d7d7d" stroke-width="1.1"/>
<line x1="46.90" y1="311.65" x2="49.90" y2="311.65" stroke="#7d7d7d" stroke-width="1.1"/>
<line x1="44.40" y1="308.90" x2="49.90" y2="308.90" stroke="#7d7d7d" stroke-width="1.3"/>
<line x1="46.90" y1="300.19" x2="49.90" y2="300.19" stroke="#7d7d7d" stroke-width="1.1"/>
<line x1="46.90" y1="295.17" x2="49.90" y2="295.17" stroke="#7d7d7d" stroke-width="1.1"/>
<line x1="46.90" y1="292.00" x2="49.90" y2="292.00" stroke="#7d7d7d" stroke-width="1.1"/>
<line x1="46.90" y1="289.36" x2="49.90" y2="289.36" stroke="#7d7d7d" stroke-width="1.1"/>
<line x1="46.90" y1="287.25" x2="49.90" y2="287.25" stroke="#7d7d7d" stroke-width="1.1"/>
<line x1="46.90" y1="285.14" x2="49.90" y2="285.14" stroke="#7d7d7d" stroke-width="1.1"/>
<line x1="44.40" y1="282.50" x2="49.90" y2="282.50" stroke="#7d7d7d" stroke-width="1.3"/>
<line x1="46.90" y1="273.52" x2="49.90" y2="273.52" stroke="#7d7d7d" stroke-width="1.1"/>
<line x1="46.90" y1="268.36" x2="49.90" y2="268.36" stroke="#7d7d7d" stroke-width="1.1"/>
<line x1="46.90" y1="265.09" x2="49.90" y2="265.09" stroke="#7d7d7d" stroke-width="1.1"/>
<line x1="46.90" y1="262.37" x2="49.90" y2="262.37" stroke="#7d7d7d" stroke-width="1.1"/>
<line x1="46.90" y1="260.20" x2="49.90" y2="260.20" stroke="#7d7d7d" stroke-width="1.1"/>
<line x1="46.90" y1="258.02" x2="49.90" y2="258.02" stroke="#7d7d7d" stroke-width="1.1"/>
<line x1="44.40" y1="255.30" x2="49.90" y2="255.30" stroke="#7d7d7d" stroke-width="1.3"/>
<line x1="46.90" y1="245.93" x2="49.90" y2="245.93" stroke="#7d7d7d" stroke-width="1.1"/>
<line x1="46.90" y1="240.53" x2="49.90" y2="240.53" stroke="#7d7d7d" stroke-width="1.1"/>
<line x1="46.90" y1="237.12" x2="49.90" y2="237.12" stroke="#7d7d7d" stroke-width="1.1"/>
<line x1="46.90" y1="234.28" x2="49.90" y2="234.28" stroke="#7d7d7d" stroke-width="1.1"/>
<line x1="46.90" y1="232.01" x2="49.90" y2="232.01" stroke="#7d7d7d" stroke-width="1.1"/>
<line x1="46.90" y1="229.74" x2="49.90" y2="229.74" stroke="#7d7d7d" stroke-width="1.1"/>
<line x1="44.40" y1="226.90" x2="49.90" y2="226.90" stroke="#7d7d7d" stroke-width="1.3"/>
<line x1="46.90" y1="218.16" x2="49.90" y2="218.16" stroke="#7d7d7d" stroke-width="1.1"/>
<line x1="46.90" y1="213.12" x2="49.90" y2="213.12" stroke="#7d7d7d" stroke-width="1.1"/>
<line x1="46.90" y1="209.94" x2="49.90" y2="209.94" stroke="#7d7d7d" stroke-width="1.1"/>
<line x1="46.90" y1="207.29" x2="49.90" y2="207.29" stroke="#7d7d7d" stroke-width="1.1"/>
<line x1="46.90" y1="205.17" x2="49.90" y2="205.17" stroke="#7d7d7d" stroke-width="1.1"/>
<line x1="46.90" y1="203.05" x2="49.90" y2="203.05" stroke="#7d7d7d" stroke-width="1.1"/>
<line x1="44.40" y1="200.40" x2="49.90" y2="200.40" stroke="#7d7d7d" stroke-width="1.3"/>
<line x1="51.50" y1="337.90" x2="51.50" y2="343.90" stroke="#7d7d7d" stroke-width="1.3"/>
<line x1="62.48" y1="337.90" x2="62.48" y2="341.30" stroke="#7d7d7d" stroke-width="1.1"/>
<line x1="69.43" y1="337.90" x2="69.43" y2="341.30" stroke="#7d7d7d" stroke-width="1.1"/>
<line x1="74.56" y1="337.90" x2="74.56" y2="341.30" stroke="#7d7d7d" stroke-width="1.1"/>
<line x1="80.05" y1="337.90" x2="80.05" y2="341.30" stroke="#7d7d7d" stroke-width="1.1"/>
<line x1="82.98" y1="337.90" x2="82.98" y2="341.30" stroke="#7d7d7d" stroke-width="1.1"/>
<line x1="85.54" y1="337.90" x2="85.54" y2="341.30" stroke="#7d7d7d" stroke-width="1.1"/>
<line x1="88.10" y1="337.90" x2="88.10" y2="343.90" stroke="#7d7d7d" stroke-width="1.3"/>
<line x1="99.23" y1="337.90" x2="99.23" y2="341.30" stroke="#7d7d7d" stroke-width="1.1"/>
<line x1="106.28" y1="337.90" x2="106.28" y2="341.30" stroke="#7d7d7d" stroke-width="1.1"/>
<line x1="111.47" y1="337.90" x2="111.47" y2="341.30" stroke="#7d7d7d" stroke-width="1.1"/>
<line x1="117.04" y1="337.90" x2="117.04" y2="341.30" stroke="#7d7d7d" stroke-width="1.1"/>
<line x1="120.01" y1="337.90" x2="120.01" y2="341.30" stroke="#7d7d7d" stroke-width="1.1"/>
<line x1="122.60" y1="337.90" x2="122.60" y2="341.30" stroke="#7d7d7d" stroke-width="1.1"/>
<line x1="125.20" y1="337.90" x2="125.20" y2="343.90" stroke="#7d7d7d" stroke-width="1.3"/>
<line x1="135.79" y1="337.90" x2="135.79" y2="341.30" stroke="#7d7d7d" stroke-width="1.1"/>
<line x1="142.50" y1="337.90" x2="142.50" y2="341.30" stroke="#7d7d7d" stroke-width="1.1"/>
<line x1="147.44" y1="337.90" x2="147.44" y2="341.30" stroke="#7d7d7d" stroke-width="1.1"/>
<line x1="152.73" y1="337.90" x2="152.73" y2="341.30" stroke="#7d7d7d" stroke-width="1.1"/>
<line x1="155.56" y1="337.90" x2="155.56" y2="341.30" stroke="#7d7d7d" stroke-width="1.1"/>
<line x1="158.03" y1="337.90" x2="158.03" y2="341.30" stroke="#7d7d7d" stroke-width="1.1"/>
<line x1="160.50" y1="337.90" x2="160.50" y2="343.90" stroke="#7d7d7d" stroke-width="1.3"/>
<line x1="170.85" y1="337.90" x2="170.85" y2="341.30" stroke="#7d7d7d" stroke-width="1.1"/>
<line x1="177.41" y1="337.90" x2="177.41" y2="341.30" stroke="#7d7d7d" stroke-width="1.1"/>
<line x1="182.24" y1="337.90" x2="182.24" y2="341.30" stroke="#7d7d7d" stroke-width="1.1"/>
<line x1="187.41" y1="337.90" x2="187.41" y2="341.30" stroke="#7d7d7d" stroke-width="1.1"/>
<line x1="190.17" y1="337.90" x2="190.17" y2="341.30" stroke="#7d7d7d" stroke-width="1.1"/>
<line x1="192.59" y1="337.90" x2="192.59" y2="341.30" stroke="#7d7d7d" stroke-width="1.1"/>
<line x1="195.00" y1="337.90" x2="195.00" y2="343.90" stroke="#7d7d7d" stroke-width="1.3"/>
<line x1="206.01" y1="337.90" x2="206.01" y2="341.30" stroke="#7d7d7d" stroke-width="1.1"/>
<line x1="212.98" y1="337.90" x2="212.98" y2="341.30" stroke="#7d7d7d" stroke-width="1.1"/>
<line x1="218.12" y1="337.90" x2="218.12" y2="341.30" stroke="#7d7d7d" stroke-width="1.1"/>
<line x1="223.63" y1="337.90" x2="223.63" y2="341.30" stroke="#7d7d7d" stroke-width="1.1"/>
<line x1="226.56" y1="337.90" x2="226.56" y2="341.30" stroke="#7d7d7d" stroke-width="1.1"/>
<line x1="229.13" y1="337.90" x2="229.13" y2="341.30" stroke="#7d7d7d" stroke-width="1.1"/>
<line x1="231.70" y1="337.90" x2="231.70" y2="343.90" stroke="#7d7d7d" stroke-width="1.3"/>
<rect x="49.90" y="196.50" width="186.70" height="141.40" fill="none" stroke="#7d7d7d" stroke-width="1.6"/>
<line x1="109.50" y1="6.60" x2="109.50" y2="145.80" stroke="#a2a2a2" stroke-width="1.3"/>
<line x1="50.80" y1="118.40" x2="235.20" y2="118.40" stroke="#959595" stroke-width="1.2"/>
<line x1="91.40" y1="196.50" x2="91.40" y2="337.90" stroke="#a0a0a0" stroke-width="1.3"/>
<line x1="49.90" y1="314.80" x2="236.60" y2="314.80" stroke="#bdbdbd" stroke-width="1.8"/>
<text x="53.50" y="170.60" font-family="'Liberation Serif', serif" font-weight="bold" font-size="9" fill="#808080" text-anchor="middle" textLength="9.2" lengthAdjust="spacingAndGlyphs">10</text>
<text x="54.80" y="157.60" font-family="'Liberation Serif', serif" font-weight="bold" font-size="8.5" fill="#808080" text-anchor="start">0</text>
<text x="86.50" y="170.60" font-family="'Liberation Serif', serif" font-weight="bold" font-size="9" fill="#808080" text-anchor="middle" textLength="9.2" lengthAdjust="spacingAndGlyphs">10</text>
<text x="93.00" y="158.80" font-family="'Liberation Serif', serif" font-weight="bold" font-size="8.5" fill="#808080" text-anchor="start">1</text>
<text x="121.90" y="170.60" font-family="'Liberation Serif', serif" font-weight="bold" font-size="9" fill="#808080" text-anchor="middle" textLength="9.2" lengthAdjust="spacingAndGlyphs">10</text>
<text x="125.50" y="158.80" font-family="'Liberation Serif', serif" font-weight="bold" font-size="8.5" fill="#808080" text-anchor="start">2</text>
<text x="158.20" y="170.60" font-family="'Liberation Serif', serif" font-weight="bold" font-size="9" fill="#808080" text-anchor="middle" textLength="9.2" lengthAdjust="spacingAndGlyphs">10</text>
<text x="160.70" y="158.80" font-family="'Liberation Serif', serif" font-weight="bold" font-size="8.5" fill="#808080" text-anchor="start">3</text>
<text x="195.70" y="170.60" font-family="'Liberation Serif', serif" font-weight="bold" font-size="9" fill="#808080" text-anchor="middle" textLength="9.2" lengthAdjust="spacingAndGlyphs">10</text>
<text x="197.40" y="158.80" font-family="'Liberation Serif', serif" font-weight="bold" font-size="8.5" fill="#808080" text-anchor="start">4</text>
<text x="230.20" y="170.60" font-family="'Liberation Serif', serif" font-weight="bold" font-size="9" fill="#808080" text-anchor="middle" textLength="9.2" lengthAdjust="spacingAndGlyphs">10</text>
<text x="231.70" y="158.80" font-family="'Liberation Serif', serif" font-weight="bold" font-size="8.5" fill="#808080" text-anchor="start">5</text>
<text transform="translate(39.20,144.60) rotate(-90)" font-family="'Liberation Serif', serif" font-weight="normal" font-size="8" fill="#6c6c6c" text-anchor="middle" textLength="8.5" lengthAdjust="spacingAndGlyphs" stroke="#6c6c6c" stroke-width="0.25">10</text>
<text transform="translate(28.60,142.80) rotate(-90)" font-family="'Liberation Serif', serif" font-weight="normal" font-size="8" fill="#6c6c6c" text-anchor="start" stroke="#6c6c6c" stroke-width="0.25">0</text>
<text transform="translate(39.20,118.20) rotate(-90)" font-family="'Liberation Serif', serif" font-weight="normal" font-size="8" fill="#6c6c6c" text-anchor="middle" textLength="8.5" lengthAdjust="spacingAndGlyphs" stroke="#6c6c6c" stroke-width="0.25">10</text>
<text transform="translate(28.60,111.80) rotate(-90)" font-family="'Liberation Serif', serif" font-weight="normal" font-size="8" fill="#6c6c6c" text-anchor="start" stroke="#6c6c6c" stroke-width="0.25">1</text>
<text transform="translate(39.20,91.00) rotate(-90)" font-family="'Liberation Serif', serif" font-weight="normal" font-size="8" fill="#6c6c6c" text-anchor="middle" textLength="8.5" lengthAdjust="spacingAndGlyphs" stroke="#6c6c6c" stroke-width="0.25">10</text>
<text transform="translate(28.60,87.00) rotate(-90)" font-family="'Liberation Serif', serif" font-weight="normal" font-size="8" fill="#6c6c6c" text-anchor="start" stroke="#6c6c6c" stroke-width="0.25">2</text>
<text transform="translate(39.20,63.80) rotate(-90)" font-family="'Liberation Serif', serif" font-weight="normal" font-size="8" fill="#6c6c6c" text-anchor="middle" textLength="8.5" lengthAdjust="spacingAndGlyphs" stroke="#6c6c6c" stroke-width="0.25">10</text>
<text transform="translate(28.60,60.40) rotate(-90)" font-family="'Liberation Serif', serif" font-weight="normal" font-size="8" fill="#6c6c6c" text-anchor="start" stroke="#6c6c6c" stroke-width="0.25">3</text>
<text transform="translate(39.20,36.20) rotate(-90)" font-family="'Liberation Serif', serif" font-weight="normal" font-size="8" fill="#6c6c6c" text-anchor="middle" textLength="8.5" lengthAdjust="spacingAndGlyphs" stroke="#6c6c6c" stroke-width="0.25">10</text>
<text transform="translate(28.60,33.20) rotate(-90)" font-family="'Liberation Serif', serif" font-weight="normal" font-size="8" fill="#6c6c6c" text-anchor="start" stroke="#6c6c6c" stroke-width="0.25">4</text>
<text transform="translate(39.20,11.00) rotate(-90)" font-family="'Liberation Serif', serif" font-weight="normal" font-size="8" fill="#6c6c6c" text-anchor="middle" textLength="8.5" lengthAdjust="spacingAndGlyphs" stroke="#6c6c6c" stroke-width="0.25">10</text>
<text transform="translate(28.60,9.00) rotate(-90)" font-family="'Liberation Serif', serif" font-weight="normal" font-size="8" fill="#6c6c6c" text-anchor="start" stroke="#6c6c6c" stroke-width="0.25">5</text>
<text x="52.20" y="363.30" font-family="'Liberation Serif', serif" font-weight="bold" font-size="9" fill="#808080" text-anchor="middle" textLength="9.2" lengthAdjust="spacingAndGlyphs">10</text>
<text x="53.60" y="351.40" font-family="'Liberation Serif', serif" font-weight="bold" font-size="8.5" fill="#808080" text-anchor="start">0</text>
<text x="86.20" y="363.30" font-family="'Liberation Serif', serif" font-weight="bold" font-size="9" fill="#808080" text-anchor="middle" textLength="9.2" lengthAdjust="spacingAndGlyphs">10</text>
<text x="92.50" y="352.60" font-family="'Liberation Serif', serif" font-weight="bold" font-size="8.5" fill="#808080" text-anchor="start">1</text>
<text x="122.10" y="363.30" font-family="'Liberation Serif', serif" font-weight="bold" font-size="9" fill="#808080" text-anchor="middle" textLength="9.2" lengthAdjust="spacingAndGlyphs">10</text>
<text x="125.50" y="352.60" font-family="'Liberation Serif', serif" font-weight="bold" font-size="8.5" fill="#808080" text-anchor="start">2</text>
<text x="158.70" y="363.30" font-family="'Liberation Serif', serif" font-weight="bold" font-size="9" fill="#808080" text-anchor="middle" textLength="9.2" lengthAdjust="spacingAndGlyphs">10</text>
<text x="161.40" y="352.60" font-family="'Liberation Serif', serif" font-weight="bold" font-size="8.5" fill="#808080" text-anchor="start">3</text>
<text x="196.70" y="363.30" font-family="'Liberation Serif', serif" font-weight="bold" font-size="9" fill="#808080" text-anchor="middle" textLength="9.2" lengthAdjust="spacingAndGlyphs">10</text>
<text x="198.90" y="352.60" font-family="'Liberation Serif', serif" font-weight="bold" font-size="8.5" fill="#808080" text-anchor="start">4</text>
<text x="232.10" y="363.30" font-family="'Liberation Serif', serif" font-weight="bold" font-size="9" fill="#808080" text-anchor="middle" textLength="9.2" lengthAdjust="spacingAndGlyphs">10</text>
<text x="233.20" y="352.60" font-family="'Liberation Serif', serif" font-weight="bold" font-size="8.5" fill="#808080" text-anchor="start">5</text>
<text transform="translate(39.00,336.60) rotate(-90)" font-family="'Liberation Serif', serif" font-weight="normal" font-size="8" fill="#6c6c6c" text-anchor="middle" textLength="8.5" lengthAdjust="spacingAndGlyphs" stroke="#6c6c6c" stroke-width="0.25">10</text>
<text transform="translate(27.50,334.00) rotate(-90)" font-family="'Liberation Serif', serif" font-weight="normal" font-size="8" fill="#6c6c6c" text-anchor="start" stroke="#6c6c6c" stroke-width="0.25">0</text>
<text transform="translate(39.00,309.20) rotate(-90)" font-family="'Liberation Serif', serif" font-weight="normal" font-size="8" fill="#6c6c6c" text-anchor="middle" textLength="8.5" lengthAdjust="spacingAndGlyphs" stroke="#6c6c6c" stroke-width="0.25">10</text>
<text transform="translate(27.50,303.00) rotate(-90)" font-family="'Liberation Serif', serif" font-weight="normal" font-size="8" fill="#6c6c6c" text-anchor="start" stroke="#6c6c6c" stroke-width="0.25">1</text>
<text transform="translate(39.00,282.50) rotate(-90)" font-family="'Liberation Serif', serif" font-weight="normal" font-size="8" fill="#6c6c6c" text-anchor="middle" textLength="8.5" lengthAdjust="spacingAndGlyphs" stroke="#6c6c6c" stroke-width="0.25">10</text>
<text transform="translate(27.50,278.00) rotate(-90)" font-family="'Liberation Serif', serif" font-weight="normal" font-size="8" fill="#6c6c6c" text-anchor="start" stroke="#6c6c6c" stroke-width="0.25">2</text>
<text transform="translate(39.00,255.60) rotate(-90)" font-family="'Liberation Serif', serif" font-weight="normal" font-size="8" fill="#6c6c6c" text-anchor="middle" textLength="8.5" lengthAdjust="spacingAndGlyphs" stroke="#6c6c6c" stroke-width="0.25">10</text>
<text transform="translate(27.50,251.00) rotate(-90)" font-family="'Liberation Serif', serif" font-weight="normal" font-size="8" fill="#6c6c6c" text-anchor="start" stroke="#6c6c6c" stroke-width="0.25">3</text>
<text transform="translate(39.00,226.60) rotate(-90)" font-family="'Liberation Serif', serif" font-weight="normal" font-size="8" fill="#6c6c6c" text-anchor="middle" textLength="8.5" lengthAdjust="spacingAndGlyphs" stroke="#6c6c6c" stroke-width="0.25">10</text>
<text transform="translate(27.50,224.00) rotate(-90)" font-family="'Liberation Serif', serif" font-weight="normal" font-size="8" fill="#6c6c6c" text-anchor="start" stroke="#6c6c6c" stroke-width="0.25">4</text>
<text transform="translate(39.00,201.80) rotate(-90)" font-family="'Liberation Serif', serif" font-weight="normal" font-size="8" fill="#6c6c6c" text-anchor="middle" textLength="8.5" lengthAdjust="spacingAndGlyphs" stroke="#6c6c6c" stroke-width="0.25">10</text>
<text transform="translate(27.50,199.00) rotate(-90)" font-family="'Liberation Serif', serif" font-weight="normal" font-size="8" fill="#6c6c6c" text-anchor="start" stroke="#6c6c6c" stroke-width="0.25">5</text>
<text x="101.00" y="185.20" font-family="'Liberation Mono', monospace" font-weight="bold" font-size="9.7" fill="#ed1c24" text-anchor="start" textLength="82" lengthAdjust="spacingAndGlyphs">Annexin V-FITC</text>
<text x="101.00" y="378.30" font-family="'Liberation Mono', monospace" font-weight="bold" font-size="9.7" fill="#ed1c24" text-anchor="start" textLength="82" lengthAdjust="spacingAndGlyphs">Annexin V-FITC</text>
<text transform="translate(12.40,72.30) rotate(-90)" font-family="'Liberation Mono', monospace" font-weight="bold" font-size="9.7" fill="#ed1c24" text-anchor="start" textLength="11.6" lengthAdjust="spacingAndGlyphs">PI</text>
<text transform="translate(11.60,264.20) rotate(-90)" font-family="'Liberation Mono', monospace" font-weight="bold" font-size="9.7" fill="#ed1c24" text-anchor="start" textLength="11.6" lengthAdjust="spacingAndGlyphs">PI</text>
<text x="56.80" y="66.80" font-family="'Liberation Serif', serif" font-weight="bold" font-size="7.4" fill="#111" text-anchor="start" textLength="21" lengthAdjust="spacingAndGlyphs" stroke="#111" stroke-width="0.25">1.61%</text>
<text x="208.80" y="69.80" font-family="'Liberation Sans', sans-serif" font-weight="bold" font-size="7.5" fill="#111" text-anchor="start" textLength="21.1" lengthAdjust="spacingAndGlyphs" stroke="#111" stroke-width="0.2">0.27%</text>
<text x="203.90" y="138.60" font-family="'Liberation Sans', sans-serif" font-weight="bold" font-size="7.5" fill="#111" text-anchor="start" textLength="21.4" lengthAdjust="spacingAndGlyphs" stroke="#111" stroke-width="0.2">0.41%</text>
<text x="55.40" y="255.90" font-family="'Liberation Serif', serif" font-weight="bold" font-size="7.4" fill="#111" text-anchor="start" textLength="21.8" lengthAdjust="spacingAndGlyphs" stroke="#111" stroke-width="0.25">3.95%</text>
<text x="203.30" y="258.70" font-family="'Liberation Sans', sans-serif" font-weight="bold" font-size="7.5" fill="#111" text-anchor="start" textLength="26.6" lengthAdjust="spacingAndGlyphs" stroke="#111" stroke-width="0.2">22.81%</text>
<text x="197.40" y="330.90" font-family="'Liberation Serif', serif" font-weight="bold" font-size="7.4" fill="#111" text-anchor="start" textLength="26.4" lengthAdjust="spacingAndGlyphs" stroke="#111" stroke-width="0.25">15.42%</text>
<text x="238.90" y="11.00" font-family="'Liberation Sans', sans-serif" font-weight="bold" font-size="7.5" fill="#1a1a1a" text-anchor="start" textLength="62.3" lengthAdjust="spacingAndGlyphs" stroke="#1a1a1a" stroke-width="0.22">Date : 30 jul 2023</text>
<text x="238.10" y="20.80" font-family="'Liberation Sans', sans-serif" font-weight="bold" font-size="7.5" fill="#1a1a1a" text-anchor="start" textLength="30" lengthAdjust="spacingAndGlyphs" stroke="#1a1a1a" stroke-width="0.22">sample :</text>
<text x="273.00" y="21.60" font-family="'Liberation Sans', sans-serif" font-weight="bold" font-size="7.5" fill="#1a1a1a" text-anchor="start" textLength="19" lengthAdjust="spacingAndGlyphs" stroke="#1a1a1a" stroke-width="0.22">MCF7</text>
<text x="240.90" y="200.90" font-family="'Liberation Sans', sans-serif" font-weight="bold" font-size="7.5" fill="#1a1a1a" text-anchor="start" textLength="63.3" lengthAdjust="spacingAndGlyphs" stroke="#1a1a1a" stroke-width="0.22">Date : 30 jul 2023</text>
<text x="240.90" y="211.20" font-family="'Liberation Sans', sans-serif" font-weight="bold" font-size="7.5" fill="#1a1a1a" text-anchor="start" textLength="65.9" lengthAdjust="spacingAndGlyphs" stroke="#1a1a1a" stroke-width="0.22">sample : H7/MCF7</text>
<line x1="361.40" y1="12.10" x2="364.40" y2="12.10" stroke="#7d7d7d" stroke-width="1.1"/>
<line x1="361.40" y1="18.05" x2="364.40" y2="18.05" stroke="#7d7d7d" stroke-width="1.1"/>
<line x1="361.40" y1="24.00" x2="364.40" y2="24.00" stroke="#7d7d7d" stroke-width="1.1"/>
<line x1="361.40" y1="29.95" x2="364.40" y2="29.95" stroke="#7d7d7d" stroke-width="1.1"/>
<line x1="361.40" y1="35.90" x2="364.40" y2="35.90" stroke="#7d7d7d" stroke-width="1.1"/>
<line x1="361.40" y1="41.85" x2="364.40" y2="41.85" stroke="#7d7d7d" stroke-width="1.1"/>
<line x1="361.40" y1="47.80" x2="364.40" y2="47.80" stroke="#7d7d7d" stroke-width="1.1"/>
<line x1="361.40" y1="53.75" x2="364.40" y2="53.75" stroke="#7d7d7d" stroke-width="1.1"/>
<line x1="361.40" y1="59.70" x2="364.40" y2="59.70" stroke="#7d7d7d" stroke-width="1.1"/>
<line x1="361.40" y1="65.65" x2="364.40" y2="65.65" stroke="#7d7d7d" stroke-width="1.1"/>
<line x1="361.40" y1="71.60" x2="364.40" y2="71.60" stroke="#7d7d7d" stroke-width="1.1"/>
<line x1="361.40" y1="77.55" x2="364.40" y2="77.55" stroke="#7d7d7d" stroke-width="1.1"/>
<line x1="361.40" y1="83.50" x2="364.40" y2="83.50" stroke="#7d7d7d" stroke-width="1.1"/>
<line x1="361.40" y1="89.45" x2="364.40" y2="89.45" stroke="#7d7d7d" stroke-width="1.1"/>
<line x1="361.40" y1="95.40" x2="364.40" y2="95.40" stroke="#7d7d7d" stroke-width="1.1"/>
<line x1="361.40" y1="101.35" x2="364.40" y2="101.35" stroke="#7d7d7d" stroke-width="1.1"/>
<line x1="361.40" y1="107.30" x2="364.40" y2="107.30" stroke="#7d7d7d" stroke-width="1.1"/>
<line x1="361.40" y1="113.25" x2="364.40" y2="113.25" stroke="#7d7d7d" stroke-width="1.1"/>
<line x1="361.40" y1="119.20" x2="364.40" y2="119.20" stroke="#7d7d7d" stroke-width="1.1"/>
<line x1="361.40" y1="125.15" x2="364.40" y2="125.15" stroke="#7d7d7d" stroke-width="1.1"/>
<line x1="361.40" y1="131.10" x2="364.40" y2="131.10" stroke="#7d7d7d" stroke-width="1.1"/>
<line x1="361.40" y1="137.05" x2="364.40" y2="137.05" stroke="#7d7d7d" stroke-width="1.1"/>
<line x1="361.40" y1="154.90" x2="364.40" y2="154.90" stroke="#7d7d7d" stroke-width="1.1"/>
<line x1="361.40" y1="160.85" x2="364.40" y2="160.85" stroke="#7d7d7d" stroke-width="1.1"/>
<line x1="359.40" y1="24.00" x2="364.40" y2="24.00" stroke="#7d7d7d" stroke-width="1.2"/>
<line x1="359.40" y1="53.75" x2="364.40" y2="53.75" stroke="#7d7d7d" stroke-width="1.2"/>
<line x1="359.40" y1="83.50" x2="364.40" y2="83.50" stroke="#7d7d7d" stroke-width="1.2"/>
<line x1="359.40" y1="113.25" x2="364.40" y2="113.25" stroke="#7d7d7d" stroke-width="1.2"/>
<line x1="380.60" y1="166.90" x2="380.60" y2="169.40" stroke="#7d7d7d" stroke-width="1.1"/>
<line x1="395.30" y1="166.90" x2="395.30" y2="169.40" stroke="#7d7d7d" stroke-width="1.1"/>
<line x1="403.30" y1="166.90" x2="403.30" y2="169.40" stroke="#7d7d7d" stroke-width="1.1"/>
<line x1="411.70" y1="166.90" x2="411.70" y2="169.40" stroke="#7d7d7d" stroke-width="1.1"/>
<line x1="419.50" y1="166.90" x2="419.50" y2="169.40" stroke="#7d7d7d" stroke-width="1.1"/>
<line x1="427.10" y1="166.90" x2="427.10" y2="169.40" stroke="#7d7d7d" stroke-width="1.1"/>
<line x1="434.90" y1="166.90" x2="434.90" y2="169.40" stroke="#7d7d7d" stroke-width="1.1"/>
<line x1="442.60" y1="166.90" x2="442.60" y2="169.40" stroke="#7d7d7d" stroke-width="1.1"/>
<line x1="450.40" y1="166.90" x2="450.40" y2="169.40" stroke="#7d7d7d" stroke-width="1.1"/>
<line x1="458.20" y1="166.90" x2="458.20" y2="169.40" stroke="#7d7d7d" stroke-width="1.1"/>
<line x1="465.80" y1="166.90" x2="465.80" y2="169.40" stroke="#7d7d7d" stroke-width="1.1"/>
<line x1="473.30" y1="166.90" x2="473.30" y2="169.40" stroke="#7d7d7d" stroke-width="1.1"/>
<line x1="481.10" y1="166.90" x2="481.10" y2="169.40" stroke="#7d7d7d" stroke-width="1.1"/>
<line x1="488.90" y1="166.90" x2="488.90" y2="169.40" stroke="#7d7d7d" stroke-width="1.1"/>
<line x1="497.40" y1="166.90" x2="497.40" y2="169.40" stroke="#7d7d7d" stroke-width="1.1"/>
<line x1="504.80" y1="166.90" x2="504.80" y2="169.40" stroke="#7d7d7d" stroke-width="1.1"/>
<line x1="512.10" y1="166.90" x2="512.10" y2="169.40" stroke="#7d7d7d" stroke-width="1.1"/>
<line x1="520.20" y1="166.90" x2="520.20" y2="169.40" stroke="#7d7d7d" stroke-width="1.1"/>
<line x1="528.30" y1="166.90" x2="528.30" y2="169.40" stroke="#7d7d7d" stroke-width="1.1"/>
<line x1="536.20" y1="166.90" x2="536.20" y2="169.40" stroke="#7d7d7d" stroke-width="1.1"/>
<line x1="543.80" y1="166.90" x2="543.80" y2="169.40" stroke="#7d7d7d" stroke-width="1.1"/>
<line x1="552.00" y1="166.90" x2="552.00" y2="169.40" stroke="#7d7d7d" stroke-width="1.1"/>
<line x1="559.30" y1="166.90" x2="559.30" y2="169.40" stroke="#7d7d7d" stroke-width="1.1"/>
<line x1="395.30" y1="166.90" x2="395.30" y2="170.90" stroke="#7d7d7d" stroke-width="1.2"/>
<line x1="473.30" y1="166.90" x2="473.30" y2="170.90" stroke="#7d7d7d" stroke-width="1.2"/>
<line x1="512.10" y1="166.90" x2="512.10" y2="170.90" stroke="#7d7d7d" stroke-width="1.2"/>
<line x1="552.00" y1="166.90" x2="552.00" y2="170.90" stroke="#7d7d7d" stroke-width="1.2"/>
<path d="M384.80 166.90 L385.01 166.39 L385.28 165.73 L385.60 164.95 L385.96 164.08 L386.34 163.12 L386.73 162.10 L387.12 161.06 L387.50 160.00 L387.86 158.97 L388.22 157.96 L388.58 156.93 L388.96 155.84 L389.34 154.65 L389.74 153.30 L390.16 151.77 L390.60 150.00 L391.08 147.97 L391.61 145.71 L392.16 143.25 L392.73 140.65 L393.29 137.94 L393.83 135.17 L394.34 132.37 L394.80 129.60 L395.22 126.80 L395.60 123.91 L395.97 120.96 L396.31 117.96 L396.63 114.95 L396.93 111.93 L397.22 108.94 L397.50 106.00 L397.76 103.07 L398.01 100.13 L398.23 97.19 L398.44 94.26 L398.64 91.36 L398.83 88.50 L399.02 85.71 L399.20 83.00 L399.38 80.24 L399.56 77.38 L399.74 74.51 L399.91 71.71 L400.06 69.10 L400.20 66.76 L400.31 64.80 L400.40 63.30 L400.70 63.30 L400.75 64.80 L400.82 66.76 L400.91 69.10 L401.00 71.71 L401.10 74.51 L401.20 77.38 L401.30 80.24 L401.40 83.00 L401.49 85.71 L401.59 88.49 L401.68 91.34 L401.78 94.23 L401.88 97.16 L401.98 100.10 L402.09 103.05 L402.20 106.00 L402.32 108.98 L402.44 112.02 L402.57 115.10 L402.71 118.19 L402.84 121.25 L402.97 124.26 L403.09 127.18 L403.20 130.00 L403.31 132.71 L403.41 135.35 L403.51 137.93 L403.61 140.44 L403.69 142.90 L403.77 145.31 L403.84 147.68 L403.90 150.00 L403.94 152.38 L403.97 154.84 L403.99 157.31 L403.99 159.70 L404.00 161.94 L404.00 163.94 L404.00 165.62 L404.00 166.90 Z" fill="#a349a4"/>
<path d="M434.00 166.90 L434.09 166.56 L434.19 166.11 L434.30 165.56 L434.44 164.96 L434.62 164.34 L434.83 163.71 L435.09 163.12 L435.40 162.60 L435.79 162.13 L436.26 161.68 L436.79 161.24 L437.35 160.82 L437.92 160.41 L438.49 160.00 L439.02 159.60 L439.50 159.20 L439.94 158.79 L440.36 158.37 L440.78 157.95 L441.17 157.54 L441.54 157.15 L441.89 156.79 L442.21 156.47 L442.50 156.20 L442.75 155.97 L442.96 155.77 L443.15 155.60 L443.31 155.47 L443.45 155.37 L443.59 155.31 L443.74 155.28 L443.90 155.30 L444.06 155.35 L444.21 155.44 L444.36 155.57 L444.51 155.73 L444.66 155.93 L444.82 156.18 L445.00 156.47 L445.20 156.80 L445.43 157.20 L445.68 157.66 L445.95 158.19 L446.23 158.74 L446.51 159.32 L446.78 159.90 L447.05 160.47 L447.30 161.00 L447.54 161.52 L447.77 162.06 L448.01 162.61 L448.23 163.14 L448.45 163.66 L448.65 164.15 L448.83 164.60 L449.00 165.00 L449.15 165.35 L449.28 165.67 L449.40 165.95 L449.51 166.20 L449.60 166.42 L449.68 166.61 L449.74 166.77 L449.80 166.90 Z" fill="#ed1c24"/>
<path d="M389.00 166.90 L389.00 166.87 L388.97 166.83 L388.93 166.79 L388.91 166.74 L388.92 166.68 L389.01 166.60 L389.19 166.51 L389.50 166.40 L389.95 166.27 L390.54 166.12 L391.22 165.96 L391.97 165.78 L392.75 165.59 L393.54 165.40 L394.30 165.20 L395.00 165.00 L395.66 164.79 L396.31 164.56 L396.96 164.31 L397.59 164.07 L398.22 163.83 L398.83 163.60 L399.43 163.38 L400.00 163.20 L400.55 163.04 L401.07 162.90 L401.57 162.78 L402.06 162.67 L402.54 162.58 L403.02 162.48 L403.51 162.39 L404.00 162.30 L404.49 162.21 L404.98 162.13 L405.46 162.05 L405.94 161.98 L406.43 161.91 L406.93 161.84 L407.45 161.77 L408.00 161.70 L408.56 161.62 L409.13 161.54 L409.71 161.46 L410.31 161.37 L410.93 161.30 L411.59 161.22 L412.27 161.16 L413.00 161.10 L413.78 161.05 L414.61 161.01 L415.48 160.98 L416.38 160.96 L417.29 160.94 L418.20 160.92 L419.11 160.91 L420.00 160.90 L420.89 160.89 L421.80 160.89 L422.71 160.88 L423.62 160.89 L424.52 160.90 L425.39 160.92 L426.22 160.95 L427.00 161.00 L427.72 161.06 L428.39 161.13 L429.02 161.22 L429.62 161.31 L430.21 161.42 L430.80 161.53 L431.39 161.66 L432.00 161.80 L432.62 161.95 L433.25 162.12 L433.88 162.29 L434.50 162.48 L435.12 162.68 L435.75 162.88 L436.38 163.09 L437.00 163.30 L437.64 163.52 L438.30 163.76 L438.96 164.01 L439.62 164.27 L440.27 164.52 L440.89 164.76 L441.47 164.99 L442.00 165.20 L442.48 165.39 L442.94 165.57 L443.36 165.73 L443.75 165.89 L444.11 166.03 L444.44 166.17 L444.73 166.29 L445.00 166.40 L445.23 166.50 L445.41 166.59 L445.57 166.66 L445.69 166.72 L445.79 166.78 L445.87 166.83 L445.94 166.87 L446.00 166.90 Z" fill="#22b14c"/>
<path d="M364.4 12.1 H569.3 V166.9 H364.4 Z" fill="none" stroke="#7d7d7d" stroke-width="1.6"/>
<line x1="357.80" y1="205.30" x2="360.80" y2="205.30" stroke="#7d7d7d" stroke-width="1.1"/>
<line x1="357.80" y1="211.15" x2="360.80" y2="211.15" stroke="#7d7d7d" stroke-width="1.1"/>
<line x1="357.80" y1="217.00" x2="360.80" y2="217.00" stroke="#7d7d7d" stroke-width="1.1"/>
<line x1="357.80" y1="222.85" x2="360.80" y2="222.85" stroke="#7d7d7d" stroke-width="1.1"/>
<line x1="357.80" y1="228.70" x2="360.80" y2="228.70" stroke="#7d7d7d" stroke-width="1.1"/>
<line x1="357.80" y1="234.55" x2="360.80" y2="234.55" stroke="#7d7d7d" stroke-width="1.1"/>
<line x1="357.80" y1="240.40" x2="360.80" y2="240.40" stroke="#7d7d7d" stroke-width="1.1"/>
<line x1="357.80" y1="246.25" x2="360.80" y2="246.25" stroke="#7d7d7d" stroke-width="1.1"/>
<line x1="357.80" y1="252.10" x2="360.80" y2="252.10" stroke="#7d7d7d" stroke-width="1.1"/>
<line x1="357.80" y1="257.95" x2="360.80" y2="257.95" stroke="#7d7d7d" stroke-width="1.1"/>
<line x1="357.80" y1="263.80" x2="360.80" y2="263.80" stroke="#7d7d7d" stroke-width="1.1"/>
<line x1="357.80" y1="269.65" x2="360.80" y2="269.65" stroke="#7d7d7d" stroke-width="1.1"/>
<line x1="357.80" y1="275.50" x2="360.80" y2="275.50" stroke="#7d7d7d" stroke-width="1.1"/>
<line x1="357.80" y1="281.35" x2="360.80" y2="281.35" stroke="#7d7d7d" stroke-width="1.1"/>
<line x1="357.80" y1="287.20" x2="360.80" y2="287.20" stroke="#7d7d7d" stroke-width="1.1"/>
<line x1="357.80" y1="293.05" x2="360.80" y2="293.05" stroke="#7d7d7d" stroke-width="1.1"/>
<line x1="357.80" y1="298.90" x2="360.80" y2="298.90" stroke="#7d7d7d" stroke-width="1.1"/>
<line x1="357.80" y1="304.75" x2="360.80" y2="304.75" stroke="#7d7d7d" stroke-width="1.1"/>
<line x1="357.80" y1="310.60" x2="360.80" y2="310.60" stroke="#7d7d7d" stroke-width="1.1"/>
<line x1="357.80" y1="316.45" x2="360.80" y2="316.45" stroke="#7d7d7d" stroke-width="1.1"/>
<line x1="357.80" y1="322.30" x2="360.80" y2="322.30" stroke="#7d7d7d" stroke-width="1.1"/>
<line x1="357.80" y1="328.15" x2="360.80" y2="328.15" stroke="#7d7d7d" stroke-width="1.1"/>
<line x1="357.80" y1="345.70" x2="360.80" y2="345.70" stroke="#7d7d7d" stroke-width="1.1"/>
<line x1="357.80" y1="351.55" x2="360.80" y2="351.55" stroke="#7d7d7d" stroke-width="1.1"/>
<line x1="357.80" y1="357.40" x2="360.80" y2="357.40" stroke="#7d7d7d" stroke-width="1.1"/>
<line x1="355.80" y1="217.00" x2="360.80" y2="217.00" stroke="#7d7d7d" stroke-width="1.2"/>
<line x1="355.80" y1="246.25" x2="360.80" y2="246.25" stroke="#7d7d7d" stroke-width="1.2"/>
<line x1="355.80" y1="275.50" x2="360.80" y2="275.50" stroke="#7d7d7d" stroke-width="1.2"/>
<line x1="355.80" y1="304.75" x2="360.80" y2="304.75" stroke="#7d7d7d" stroke-width="1.2"/>
<line x1="376.20" y1="357.40" x2="376.20" y2="359.90" stroke="#7d7d7d" stroke-width="1.1"/>
<line x1="391.40" y1="357.40" x2="391.40" y2="359.90" stroke="#7d7d7d" stroke-width="1.1"/>
<line x1="399.50" y1="357.40" x2="399.50" y2="359.90" stroke="#7d7d7d" stroke-width="1.1"/>
<line x1="406.80" y1="357.40" x2="406.80" y2="359.90" stroke="#7d7d7d" stroke-width="1.1"/>
<line x1="415.00" y1="357.40" x2="415.00" y2="359.90" stroke="#7d7d7d" stroke-width="1.1"/>
<line x1="423.10" y1="357.40" x2="423.10" y2="359.90" stroke="#7d7d7d" stroke-width="1.1"/>
<line x1="431.20" y1="357.40" x2="431.20" y2="359.90" stroke="#7d7d7d" stroke-width="1.1"/>
<line x1="439.40" y1="357.40" x2="439.40" y2="359.90" stroke="#7d7d7d" stroke-width="1.1"/>
<line x1="446.70" y1="357.40" x2="446.70" y2="359.90" stroke="#7d7d7d" stroke-width="1.1"/>
<line x1="454.00" y1="357.40" x2="454.00" y2="359.90" stroke="#7d7d7d" stroke-width="1.1"/>
<line x1="459.90" y1="357.40" x2="459.90" y2="359.90" stroke="#7d7d7d" stroke-width="1.1"/>
<line x1="467.20" y1="357.40" x2="467.20" y2="359.90" stroke="#7d7d7d" stroke-width="1.1"/>
<line x1="475.30" y1="357.40" x2="475.30" y2="359.90" stroke="#7d7d7d" stroke-width="1.1"/>
<line x1="483.40" y1="357.40" x2="483.40" y2="359.90" stroke="#7d7d7d" stroke-width="1.1"/>
<line x1="491.60" y1="357.40" x2="491.60" y2="359.90" stroke="#7d7d7d" stroke-width="1.1"/>
<line x1="498.90" y1="357.40" x2="498.90" y2="359.90" stroke="#7d7d7d" stroke-width="1.1"/>
<line x1="506.30" y1="357.40" x2="506.30" y2="359.90" stroke="#7d7d7d" stroke-width="1.1"/>
<line x1="514.40" y1="357.40" x2="514.40" y2="359.90" stroke="#7d7d7d" stroke-width="1.1"/>
<line x1="521.70" y1="357.40" x2="521.70" y2="359.90" stroke="#7d7d7d" stroke-width="1.1"/>
<line x1="529.50" y1="357.40" x2="529.50" y2="359.90" stroke="#7d7d7d" stroke-width="1.1"/>
<line x1="537.20" y1="357.40" x2="537.20" y2="359.90" stroke="#7d7d7d" stroke-width="1.1"/>
<line x1="544.50" y1="357.40" x2="544.50" y2="359.90" stroke="#7d7d7d" stroke-width="1.1"/>
<line x1="552.60" y1="357.40" x2="552.60" y2="359.90" stroke="#7d7d7d" stroke-width="1.1"/>
<line x1="391.40" y1="357.40" x2="391.40" y2="361.40" stroke="#7d7d7d" stroke-width="1.2"/>
<line x1="467.20" y1="357.40" x2="467.20" y2="361.40" stroke="#7d7d7d" stroke-width="1.2"/>
<line x1="506.30" y1="357.40" x2="506.30" y2="361.40" stroke="#7d7d7d" stroke-width="1.2"/>
<line x1="544.50" y1="357.40" x2="544.50" y2="361.40" stroke="#7d7d7d" stroke-width="1.2"/>
<path d="M385.60 357.40 L385.83 356.81 L386.15 356.00 L386.53 355.04 L386.94 353.99 L387.37 352.90 L387.79 351.83 L388.18 350.84 L388.50 350.00 L388.77 349.32 L388.99 348.75 L389.19 348.25 L389.38 347.79 L389.56 347.31 L389.75 346.78 L389.96 346.16 L390.20 345.40 L390.46 344.61 L390.72 343.86 L390.98 343.08 L391.26 342.22 L391.56 341.21 L391.88 339.98 L392.22 338.47 L392.60 336.60 L393.03 334.31 L393.51 331.63 L394.02 328.65 L394.56 325.46 L395.09 322.15 L395.60 318.81 L396.08 315.53 L396.50 312.40 L396.87 309.35 L397.20 306.25 L397.51 303.14 L397.79 300.03 L398.05 296.96 L398.30 293.95 L398.55 291.02 L398.80 288.20 L399.05 285.37 L399.31 282.46 L399.56 279.55 L399.79 276.74 L400.01 274.12 L400.21 271.77 L400.37 269.81 L400.50 268.30 L400.80 268.30 L400.90 269.60 L401.04 271.34 L401.20 273.41 L401.38 275.71 L401.57 278.13 L401.76 280.55 L401.94 282.88 L402.10 285.00 L402.25 286.92 L402.39 288.75 L402.52 290.53 L402.66 292.29 L402.79 294.08 L402.92 295.94 L403.06 297.90 L403.20 300.00 L403.35 302.26 L403.50 304.65 L403.66 307.13 L403.82 309.69 L403.97 312.28 L404.13 314.88 L404.27 317.47 L404.40 320.00 L404.52 322.52 L404.65 325.06 L404.76 327.61 L404.88 330.16 L404.98 332.69 L405.07 335.18 L405.14 337.62 L405.20 340.00 L405.24 342.42 L405.26 344.94 L405.26 347.48 L405.25 349.95 L405.24 352.26 L405.22 354.33 L405.21 356.08 L405.20 357.40 Z" fill="#a349a4"/>
<path d="M438.00 357.40 L438.16 357.21 L438.37 356.95 L438.62 356.64 L438.89 356.29 L439.18 355.94 L439.47 355.59 L439.75 355.27 L440.00 355.00 L440.22 354.77 L440.43 354.57 L440.63 354.39 L440.83 354.22 L441.03 354.05 L441.24 353.88 L441.46 353.70 L441.70 353.50 L441.96 353.28 L442.23 353.04 L442.51 352.79 L442.80 352.53 L443.10 352.28 L443.40 352.04 L443.70 351.81 L444.00 351.60 L444.31 351.41 L444.63 351.23 L444.95 351.05 L445.28 350.89 L445.60 350.74 L445.92 350.61 L446.22 350.49 L446.50 350.40 L446.76 350.32 L446.99 350.26 L447.22 350.22 L447.43 350.19 L447.64 350.18 L447.85 350.19 L448.07 350.23 L448.30 350.30 L448.55 350.40 L448.81 350.53 L449.07 350.68 L449.34 350.86 L449.61 351.06 L449.86 351.27 L450.09 351.48 L450.30 351.70 L450.48 351.92 L450.65 352.14 L450.80 352.37 L450.94 352.61 L451.06 352.87 L451.18 353.15 L451.29 353.46 L451.40 353.80 L451.50 354.20 L451.60 354.68 L451.69 355.20 L451.77 355.73 L451.84 356.25 L451.90 356.72 L451.96 357.11 L452.00 357.40 Z" fill="#ed1c24"/>
<path d="M386.80 357.40 L386.82 357.36 L386.81 357.33 L386.80 357.28 L386.81 357.23 L386.86 357.16 L386.97 357.07 L387.18 356.95 L387.50 356.80 L387.95 356.61 L388.50 356.38 L389.15 356.12 L389.86 355.84 L390.62 355.55 L391.41 355.26 L392.21 354.97 L393.00 354.70 L393.80 354.43 L394.64 354.15 L395.52 353.87 L396.41 353.59 L397.31 353.31 L398.21 353.05 L399.11 352.81 L400.00 352.60 L400.88 352.41 L401.75 352.25 L402.62 352.11 L403.50 351.98 L404.38 351.85 L405.25 351.74 L406.12 351.62 L407.00 351.50 L407.87 351.37 L408.73 351.24 L409.58 351.12 L410.44 350.99 L411.30 350.88 L412.18 350.77 L413.08 350.68 L414.00 350.60 L414.96 350.54 L415.95 350.49 L416.97 350.46 L418.00 350.43 L419.03 350.41 L420.05 350.41 L421.04 350.40 L422.00 350.40 L422.93 350.40 L423.84 350.40 L424.74 350.40 L425.62 350.41 L426.49 350.43 L427.34 350.47 L428.18 350.52 L429.00 350.60 L429.82 350.70 L430.64 350.83 L431.46 350.97 L432.25 351.13 L433.01 351.30 L433.73 351.47 L434.40 351.64 L435.00 351.80 L435.52 351.95 L435.96 352.11 L436.34 352.26 L436.69 352.41 L437.01 352.57 L437.32 352.74 L437.65 352.91 L438.00 353.10 L438.38 353.30 L438.75 353.52 L439.12 353.74 L439.50 353.98 L439.88 354.21 L440.25 354.45 L440.62 354.68 L441.00 354.90 L441.39 355.12 L441.80 355.35 L442.21 355.58 L442.62 355.81 L443.02 356.03 L443.39 356.24 L443.72 356.43 L444.00 356.60 L444.23 356.75 L444.41 356.88 L444.57 357.00 L444.69 357.11 L444.79 357.20 L444.87 357.28 L444.94 357.34 L445.00 357.40 Z" fill="#22b14c"/>
<path d="M360.8 205.1 H562.5 V357.4 H360.8 Z" fill="none" stroke="#7d7d7d" stroke-width="1.6"/>
<line x1="400.55" y1="62.80" x2="400.55" y2="67.50" stroke="#a8a8a8" stroke-width="0.7"/>
<line x1="400.60" y1="267.60" x2="400.60" y2="271.50" stroke="#a8a8a8" stroke-width="0.7"/>
<text x="356.00" y="29.80" font-family="'Liberation Sans', sans-serif" font-weight="bold" font-size="7.8" fill="#767676" text-anchor="end" textLength="18.1" lengthAdjust="spacingAndGlyphs">1200</text>
<text x="356.00" y="57.60" font-family="'Liberation Sans', sans-serif" font-weight="bold" font-size="7.8" fill="#767676" text-anchor="end" textLength="12.9" lengthAdjust="spacingAndGlyphs">800</text>
<text x="356.00" y="86.90" font-family="'Liberation Sans', sans-serif" font-weight="bold" font-size="7.8" fill="#767676" text-anchor="end" textLength="12.9" lengthAdjust="spacingAndGlyphs">600</text>
<text x="356.00" y="115.70" font-family="'Liberation Sans', sans-serif" font-weight="bold" font-size="7.8" fill="#767676" text-anchor="end" textLength="13.6" lengthAdjust="spacingAndGlyphs">400</text>
<text x="356.00" y="145.10" font-family="'Liberation Sans', sans-serif" font-weight="bold" font-size="7.8" fill="#767676" text-anchor="end" textLength="13.6" lengthAdjust="spacingAndGlyphs">200</text>
<text x="356.00" y="168.00" font-family="'Liberation Sans', sans-serif" font-weight="bold" font-size="7.8" fill="#767676" text-anchor="end" textLength="4.2" lengthAdjust="spacingAndGlyphs">0</text>
<text x="352.20" y="222.50" font-family="'Liberation Sans', sans-serif" font-weight="bold" font-size="7.8" fill="#767676" text-anchor="end" textLength="17.1" lengthAdjust="spacingAndGlyphs">1200</text>
<text x="352.20" y="250.20" font-family="'Liberation Sans', sans-serif" font-weight="bold" font-size="7.8" fill="#767676" text-anchor="end" textLength="13.1" lengthAdjust="spacingAndGlyphs">800</text>
<text x="352.20" y="279.00" font-family="'Liberation Sans', sans-serif" font-weight="bold" font-size="7.8" fill="#767676" text-anchor="end" textLength="13.1" lengthAdjust="spacingAndGlyphs">600</text>
<text x="352.20" y="307.10" font-family="'Liberation Sans', sans-serif" font-weight="bold" font-size="7.8" fill="#767676" text-anchor="end" textLength="13.4" lengthAdjust="spacingAndGlyphs">400</text>
<text x="352.20" y="336.40" font-family="'Liberation Sans', sans-serif" font-weight="bold" font-size="7.8" fill="#767676" text-anchor="end" textLength="13.4" lengthAdjust="spacingAndGlyphs">200</text>
<text x="352.20" y="358.60" font-family="'Liberation Sans', sans-serif" font-weight="bold" font-size="7.8" fill="#767676" text-anchor="end" textLength="4.2" lengthAdjust="spacingAndGlyphs">0</text>
<text x="368.60" y="179.40" font-family="'Liberation Sans', sans-serif" font-weight="bold" font-size="7.6" fill="#767676" text-anchor="middle" textLength="4.2" lengthAdjust="spacingAndGlyphs">0</text>
<text x="398.60" y="179.40" font-family="'Liberation Sans', sans-serif" font-weight="bold" font-size="7.6" fill="#767676" text-anchor="middle" textLength="8.6" lengthAdjust="spacingAndGlyphs">40</text>
<text x="433.20" y="179.40" font-family="'Liberation Sans', sans-serif" font-weight="bold" font-size="7.6" fill="#767676" text-anchor="middle" textLength="9.0" lengthAdjust="spacingAndGlyphs">80</text>
<text x="475.50" y="179.40" font-family="'Liberation Sans', sans-serif" font-weight="bold" font-size="7.6" fill="#767676" text-anchor="middle" textLength="13.0" lengthAdjust="spacingAndGlyphs">120</text>
<text x="516.30" y="179.40" font-family="'Liberation Sans', sans-serif" font-weight="bold" font-size="7.6" fill="#767676" text-anchor="middle" textLength="13.2" lengthAdjust="spacingAndGlyphs">160</text>
<text x="557.10" y="179.40" font-family="'Liberation Sans', sans-serif" font-weight="bold" font-size="7.6" fill="#767676" text-anchor="middle" textLength="13.1" lengthAdjust="spacingAndGlyphs">200</text>
<text x="364.80" y="369.90" font-family="'Liberation Sans', sans-serif" font-weight="bold" font-size="7.6" fill="#767676" text-anchor="middle" textLength="4.2" lengthAdjust="spacingAndGlyphs">0</text>
<text x="394.50" y="369.90" font-family="'Liberation Sans', sans-serif" font-weight="bold" font-size="7.6" fill="#767676" text-anchor="middle" textLength="8.6" lengthAdjust="spacingAndGlyphs">40</text>
<text x="428.40" y="369.90" font-family="'Liberation Sans', sans-serif" font-weight="bold" font-size="7.6" fill="#767676" text-anchor="middle" textLength="9.0" lengthAdjust="spacingAndGlyphs">80</text>
<text x="469.80" y="369.90" font-family="'Liberation Sans', sans-serif" font-weight="bold" font-size="7.6" fill="#767676" text-anchor="middle" textLength="12.8" lengthAdjust="spacingAndGlyphs">120</text>
<text x="510.30" y="369.90" font-family="'Liberation Sans', sans-serif" font-weight="bold" font-size="7.6" fill="#767676" text-anchor="middle" textLength="13.0" lengthAdjust="spacingAndGlyphs">160</text>
<text x="550.70" y="369.90" font-family="'Liberation Sans', sans-serif" font-weight="bold" font-size="7.6" fill="#767676" text-anchor="middle" textLength="13.0" lengthAdjust="spacingAndGlyphs">200</text>
<text transform="translate(325.70,96.90) rotate(-90)" font-family="'Liberation Serif', serif" font-weight="bold" font-size="8" fill="#ed1c24" text-anchor="start" textLength="31.4" lengthAdjust="spacingAndGlyphs">Number</text>
<text transform="translate(323.00,288.40) rotate(-90)" font-family="'Liberation Serif', serif" font-weight="bold" font-size="8" fill="#ed1c24" text-anchor="start" textLength="30.8" lengthAdjust="spacingAndGlyphs">Number</text>
<text x="452.70" y="195.00" font-family="'Liberation Serif', serif" font-weight="bold" font-size="8" fill="#ed1c24" text-anchor="start" textLength="20.8" lengthAdjust="spacingAndGlyphs">FL2H</text>
<text x="447.80" y="384.60" font-family="'Liberation Serif', serif" font-weight="bold" font-size="8" fill="#ed1c24" text-anchor="start" textLength="20.3" lengthAdjust="spacingAndGlyphs">FL2H</text>
<text x="576.00" y="19.90" font-family="'Liberation Sans', sans-serif" font-weight="bold" font-size="7.5" fill="#1a1a1a" text-anchor="start" textLength="61.7" lengthAdjust="spacingAndGlyphs" stroke="#1a1a1a" stroke-width="0.22">Date : 30 jul 2023</text>
<text x="575.50" y="30.10" font-family="'Liberation Sans', sans-serif" font-weight="bold" font-size="7.5" fill="#1a1a1a" text-anchor="start" textLength="29.5" lengthAdjust="spacingAndGlyphs" stroke="#1a1a1a" stroke-width="0.22">sample :</text>
<text x="609.50" y="30.30" font-family="'Liberation Sans', sans-serif" font-weight="bold" font-size="7.5" fill="#1a1a1a" text-anchor="start" textLength="19" lengthAdjust="spacingAndGlyphs" stroke="#1a1a1a" stroke-width="0.22">MCF7</text>
<text x="596.70" y="54.90" font-family="'Liberation Mono', monospace" font-weight="normal" font-size="8.5" fill="#26262e" text-anchor="start" textLength="61" lengthAdjust="spacingAndGlyphs">Diploid 100%</text>
<rect x="576" y="76" width="19.8" height="5" fill="#a349a4"/>
<rect x="576" y="85.8" width="19.8" height="4.8" fill="#ed1c24"/>
<rect x="576" y="94.6" width="19.8" height="5.3" fill="#22b14c"/>
<text x="601.00" y="80.40" font-family="'Liberation Sans', sans-serif" font-weight="bold" font-size="7.5" fill="#1a1a1a" text-anchor="start" textLength="28.6" lengthAdjust="spacingAndGlyphs" stroke="#1a1a1a" stroke-width="0.22">%DIP G1</text>
<text x="601.00" y="90.20" font-family="'Liberation Sans', sans-serif" font-weight="bold" font-size="7.5" fill="#1a1a1a" text-anchor="start" textLength="40.4" lengthAdjust="spacingAndGlyphs" stroke="#1a1a1a" stroke-width="0.22">%DIP G2/M</text>
<text x="601.00" y="99.80" font-family="'Liberation Sans', sans-serif" font-weight="bold" font-size="7.5" fill="#1a1a1a" text-anchor="start" textLength="23.1" lengthAdjust="spacingAndGlyphs" stroke="#1a1a1a" stroke-width="0.22">%DIP S</text>
<text x="650.00" y="79.90" font-family="'Liberation Sans', sans-serif" font-weight="bold" font-size="7.5" fill="#1a1a1a" text-anchor="start" textLength="24.8" lengthAdjust="spacingAndGlyphs" stroke="#1a1a1a" stroke-width="0.22">61.03%</text>
<text x="650.00" y="89.70" font-family="'Liberation Sans', sans-serif" font-weight="bold" font-size="7.5" fill="#1a1a1a" text-anchor="start" textLength="24.8" lengthAdjust="spacingAndGlyphs" stroke="#1a1a1a" stroke-width="0.22">13.14%</text>
<text x="650.00" y="99.50" font-family="'Liberation Sans', sans-serif" font-weight="bold" font-size="7.5" fill="#1a1a1a" text-anchor="start" textLength="24.8" lengthAdjust="spacingAndGlyphs" stroke="#1a1a1a" stroke-width="0.22">25.83%</text>
<text x="601.00" y="118.80" font-family="'Liberation Sans', sans-serif" font-weight="bold" font-size="7.5" fill="#1a1a1a" text-anchor="start" textLength="15.7" lengthAdjust="spacingAndGlyphs" stroke="#1a1a1a" stroke-width="0.22">%CV</text>
<text x="650.00" y="118.60" font-family="'Liberation Sans', sans-serif" font-weight="bold" font-size="7.5" fill="#1a1a1a" text-anchor="start" textLength="14.9" lengthAdjust="spacingAndGlyphs" stroke="#1a1a1a" stroke-width="0.22">6.28</text>
<text x="584.90" y="139.20" font-family="'Liberation Sans', sans-serif" font-weight="bold" font-size="7.5" fill="#1a1a1a" text-anchor="start" textLength="43.1" lengthAdjust="spacingAndGlyphs" stroke="#1a1a1a" stroke-width="0.22">Aggregates :</text>
<text x="585.70" y="148.60" font-family="'Liberation Sans', sans-serif" font-weight="bold" font-size="7.5" fill="#1a1a1a" text-anchor="start" textLength="41.5" lengthAdjust="spacingAndGlyphs" stroke="#1a1a1a" stroke-width="0.22">Cell debris&#160;&#160;:</text>
<text x="650.00" y="138.20" font-family="'Liberation Sans', sans-serif" font-weight="bold" font-size="7.5" fill="#1a1a1a" text-anchor="start" textLength="20.4" lengthAdjust="spacingAndGlyphs" stroke="#1a1a1a" stroke-width="0.22">1.44%</text>
<text x="650.00" y="147.70" font-family="'Liberation Sans', sans-serif" font-weight="bold" font-size="7.5" fill="#1a1a1a" text-anchor="start" textLength="20.4" lengthAdjust="spacingAndGlyphs" stroke="#1a1a1a" stroke-width="0.22">2.39%</text>
<text x="568.60" y="213.00" font-family="'Liberation Sans', sans-serif" font-weight="bold" font-size="7.5" fill="#1a1a1a" text-anchor="start" textLength="60.9" lengthAdjust="spacingAndGlyphs" stroke="#1a1a1a" stroke-width="0.22">Date : 30 jul 2023</text>
<text x="568.20" y="222.40" font-family="'Liberation Sans', sans-serif" font-weight="bold" font-size="7.5" fill="#1a1a1a" text-anchor="start" textLength="63.5" lengthAdjust="spacingAndGlyphs" stroke="#1a1a1a" stroke-width="0.22">sample : H7/MCF7</text>
<text x="589.20" y="247.30" font-family="'Liberation Mono', monospace" font-weight="normal" font-size="8.5" fill="#26262e" text-anchor="start" textLength="60" lengthAdjust="spacingAndGlyphs">Diploid 100%</text>
<rect x="569.1" y="268" width="19.2" height="5" fill="#a349a4"/>
<rect x="569.1" y="277.8" width="19.2" height="4.9" fill="#ed1c24"/>
<rect x="569.1" y="286.4" width="19.2" height="5.3" fill="#22b14c"/>
<text x="593.60" y="273.10" font-family="'Liberation Sans', sans-serif" font-weight="bold" font-size="7.5" fill="#1a1a1a" text-anchor="start" textLength="27.9" lengthAdjust="spacingAndGlyphs" stroke="#1a1a1a" stroke-width="0.22">%DIP G1</text>
<text x="593.60" y="282.10" font-family="'Liberation Sans', sans-serif" font-weight="bold" font-size="7.5" fill="#1a1a1a" text-anchor="start" textLength="39.5" lengthAdjust="spacingAndGlyphs" stroke="#1a1a1a" stroke-width="0.22">%DIP G2/M</text>
<text x="593.60" y="291.70" font-family="'Liberation Sans', sans-serif" font-weight="bold" font-size="7.5" fill="#1a1a1a" text-anchor="start" textLength="22.5" lengthAdjust="spacingAndGlyphs" stroke="#1a1a1a" stroke-width="0.22">%DIP S</text>
<text x="640.70" y="273.10" font-family="'Liberation Sans', sans-serif" font-weight="bold" font-size="7.5" fill="#1a1a1a" text-anchor="start" textLength="25.6" lengthAdjust="spacingAndGlyphs" stroke="#1a1a1a" stroke-width="0.22">54.28%</text>
<text x="640.70" y="282.10" font-family="'Liberation Sans', sans-serif" font-weight="bold" font-size="7.5" fill="#1a1a1a" text-anchor="start" textLength="25.6" lengthAdjust="spacingAndGlyphs" stroke="#1a1a1a" stroke-width="0.22">12.11%</text>
<text x="640.70" y="291.70" font-family="'Liberation Sans', sans-serif" font-weight="bold" font-size="7.5" fill="#1a1a1a" text-anchor="start" textLength="25.6" lengthAdjust="spacingAndGlyphs" stroke="#1a1a1a" stroke-width="0.22">33.61%</text>
<text x="593.60" y="310.70" font-family="'Liberation Sans', sans-serif" font-weight="bold" font-size="7.5" fill="#1a1a1a" text-anchor="start" textLength="15.6" lengthAdjust="spacingAndGlyphs" stroke="#1a1a1a" stroke-width="0.22">%CV</text>
<text x="640.70" y="310.70" font-family="'Liberation Sans', sans-serif" font-weight="bold" font-size="7.5" fill="#1a1a1a" text-anchor="start" textLength="14.9" lengthAdjust="spacingAndGlyphs" stroke="#1a1a1a" stroke-width="0.22">5.46</text>
<text x="578.10" y="330.40" font-family="'Liberation Sans', sans-serif" font-weight="bold" font-size="7.5" fill="#1a1a1a" text-anchor="start" textLength="42.7" lengthAdjust="spacingAndGlyphs" stroke="#1a1a1a" stroke-width="0.22">Aggregates :</text>
<text x="578.60" y="339.70" font-family="'Liberation Sans', sans-serif" font-weight="bold" font-size="7.5" fill="#1a1a1a" text-anchor="start" textLength="41.3" lengthAdjust="spacingAndGlyphs" stroke="#1a1a1a" stroke-width="0.22">Cell debris&#160;&#160;:</text>
<text x="640.70" y="330.40" font-family="'Liberation Sans', sans-serif" font-weight="bold" font-size="7.5" fill="#1a1a1a" text-anchor="start" textLength="20.9" lengthAdjust="spacingAndGlyphs" stroke="#1a1a1a" stroke-width="0.22">2.07%</text>
<text x="640.70" y="339.70" font-family="'Liberation Sans', sans-serif" font-weight="bold" font-size="7.5" fill="#1a1a1a" text-anchor="start" textLength="20.9" lengthAdjust="spacingAndGlyphs" stroke="#1a1a1a" stroke-width="0.22">1.66%</text>
</svg></body></html>
